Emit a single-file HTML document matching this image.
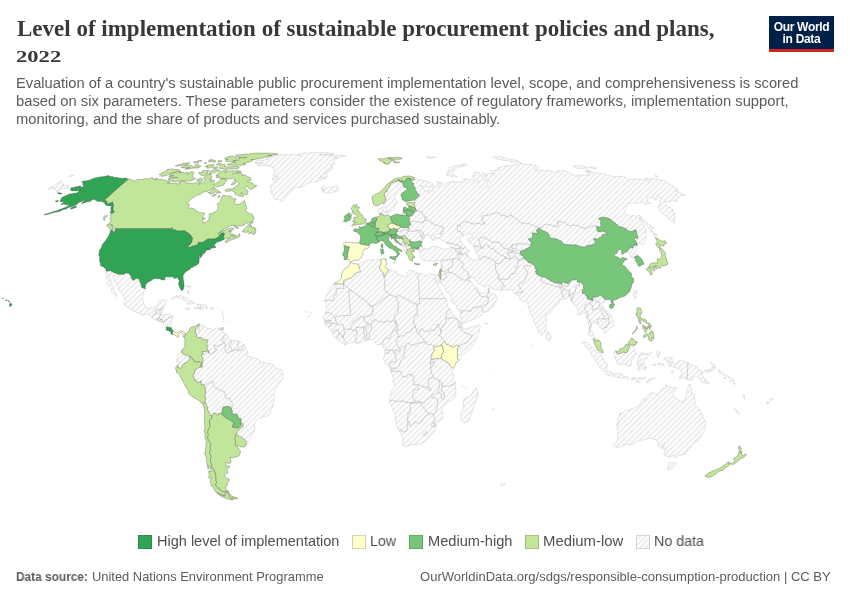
<!DOCTYPE html>
<html lang="en">
<head>
<meta charset="utf-8">
<title>Level of implementation of sustainable procurement policies and plans, 2022</title>
<style>
html,body{margin:0;padding:0;background:#fff;}
body{width:850px;height:600px;position:relative;overflow:hidden;font-family:"Liberation Sans",sans-serif;}
.t{position:absolute;white-space:nowrap;transform-origin:0 0;margin:0;padding:0;will-change:transform;}
.title{font-family:"Liberation Serif",serif;font-weight:bold;color:#383838;font-size:23px;line-height:26px;}
.sub{color:#5b5b5b;font-size:14.65px;line-height:18px;}
.leg{color:#4f4f4f;font-size:14.4px;line-height:16px;}
.foot{color:#5b5b5b;font-size:12.6px;line-height:14px;}
.sw{position:absolute;top:534.8px;width:13.9px;height:13.9px;box-shadow:inset 0 0 0 0.6px rgba(40,40,40,0.35);}
#logo{position:absolute;left:769px;top:16px;width:65px;height:36px;background:#002147;border-bottom:0 solid #ce261e;}
#logo .bar{position:absolute;left:0;right:0;bottom:0;height:3px;background:#ce261e;}
#logo span{will-change:transform;position:absolute;left:0;width:65px;text-align:center;color:#fff;font-weight:bold;font-size:12px;line-height:12px;letter-spacing:-0.3px;}
#map{position:absolute;left:0;top:0;}
</style>
</head>
<body>
<svg id="map" width="850" height="600" viewBox="0 0 850 600"><defs><pattern id="hatch" patternUnits="userSpaceOnUse" width="4" height="4" patternTransform="translate(1.4 0) rotate(-45 2 2)"><path d="M-1,2 l6,0" stroke="#ccc" stroke-width="0.7"/></pattern></defs><g fill="url(#hatch)" stroke="#aaa" stroke-width="0.3" stroke-linejoin="round"><path d="M298.8,154L304,153.1L308.7,153.1L310.8,152.6L315.7,152.4L326.4,152.6L334.4,153.8L331.7,154.4L326.4,154.5L318.9,154.6L319.5,154.9L324.5,154.7L328.4,155.3L331.3,154.8L332.3,155.4L330.4,156.3L334.2,155.7L341.1,155.1L345.2,155.4L345.9,156.1L339.9,157.3L339,157.7L334.4,158L337.7,158L335.6,159.4L334.2,160.6L333.7,162.7L335.2,164L332.8,164.1L330.2,164.7L332.7,165.7L332.7,167.4L331,167.6L332.6,169.3L329.1,169.5L330.8,170.3L330.1,171.1L327.8,171.4L325.6,171.4L327.2,172.8L327,173.8L324.1,172.9L323.1,173.5L325.2,174L327,175.3L327.3,177L324.2,177.4L323.1,176.6L321.4,175.4L321.6,176.8L319.4,178L323.8,178.1L326,178.2L321.2,180.1L316.2,181.8L311.1,182.6L309.2,182.6L307.2,183.4L304.2,185.8L300,187.4L298.8,187.5L296.3,188.1L293.6,188.6L291.6,190L291.1,191.6L289.7,193.2L286.2,195L286.3,196.9L284.9,198.8L283.2,201.1L280.6,201.3L278.5,199.4L274.9,199.3L273.6,198L273.2,195.7L271.3,192.8L271,191.3L271.6,189.2L270.1,187.1L271.5,185.5L270.7,184.7L273.5,182.1L276.4,181.2L277.5,180.3L278.6,178.6L276.4,179.4L275.3,179.7L273.7,180L272,179.3L272.6,177.8L273.8,176.7L275.4,176.6L278.4,177.2L276.3,175.9L275.2,175.1L273.4,175.4L272.4,174.9L275.2,172.9L274.7,172.1L274.3,170.7L273.7,168.5L272.2,167.7L272.7,166.9L269.4,165.7L266.3,165.5L262.2,165.6L258.3,165.8L257.1,165.2L255.5,163.9L259.9,163.3L263.1,163.2L257.1,162.7L254.4,161.9L255.3,161.2L261.7,160.3L267.9,159.4L269,158.7L265.8,158.1L267.6,157.4L273.5,156.2L275.8,156L275.8,155.3L279.5,154.9L283.9,154.6L288.2,154.6L289.3,155.1L293.6,154.3L296.5,154.9L298.4,155L300.9,155.5L298.2,154.6Z"/><path d="M145.5,288.5L144.2,290.8L143.5,292.7L142.8,296.2L142.3,297.4L142.5,298.8L143,300.1L143.2,302.1L144.4,304.1L144.7,305.6L145.4,306.9L147.7,307.6L148.5,308.7L150.6,307.9L152.3,307.7L154.1,307.2L155.6,306.7L157.2,305.7L157.9,304.1L158.4,301.9L158.9,301.2L160.5,300.5L163,299.9L165,300L166.4,299.8L166.9,300.3L166.6,301.6L165.2,303.1L164.5,304.7L164.8,305.2L164.3,306.3L163.5,308.3L163,307.7L162.5,307.7L162.1,307.7L161.1,309.3L160.7,309L160.4,309.1L160.4,309.5L158.3,309.5L156.2,309.5L156,311L154.9,311L155.7,311.8L156.4,312.4L156.6,313L157,313.2L156.8,314.1L153.9,314.1L152.6,316.2L152.8,316.7L152.5,317.3L152.4,318L150.1,315.2L149,314.4L147.2,313.7L145.9,313.9L144,314.9L142.8,315.2L141.3,314.4L139.6,314L137.6,312.8L136,312.4L133.6,311.2L131.8,309.9L131.4,309.2L130.1,309.1L127.9,308.3L127.1,307.1L125,305.6L124.1,303.9L123.7,302.7L124.5,302.4L124.4,301.7L125.1,301L125.2,300.1L124.7,298.9L124.6,297.9L124.1,296.6L122.6,294L120.7,291.9L119.9,290.3L118.2,289.2L118,288.6L118.7,287L117.7,286.4L116.7,285.1L116.6,283.3L115.4,283.1L114.5,281.7L113.8,280.4L114,279.6L113.3,277.6L113.2,275.6L113.5,274.6L112.3,273.6L111.5,273.7L110.5,273L109.8,274.1L109.7,275.3L109.3,277.3L109.8,278.4L110.9,280.2L111.1,280.8L111.4,281L111.4,281.8L111.8,281.8L111.8,283.5L112.3,284.1L112.5,285.1L113.6,286.4L113.8,288.8L114.2,290L114.6,291.2L114.4,292.6L115.5,292.7L116.2,293.9L116.8,295L116.6,295.5L115.5,296.4L115.1,296.4L114.8,294.8L113.6,293.4L112.2,292.1L111.2,291.4L111.7,289.5L111.7,288.1L110.8,287.3L109.6,286.1L109.2,286.5L108.8,285.8L107.6,285.2L106.6,283.6L106.9,283.4L107.7,283.6L108.8,282.6L109.2,281.4L108.1,279.6L107,278.8L106.6,277.2L106.4,275.5L106.1,273.4L106,271.1L108.5,270.9L111.4,270.6L111,271.1L113.9,272.4L118.3,274.2L122.7,274.2L124.5,274.2L124.8,273.1L128.6,273.1L129.2,274L130,274.9L131,276L131.3,277.4L131.5,278.8L132.4,279.6L134.1,280.4L136,278.3L137.8,278.3L139.1,279.3L139.8,281.1L140.2,282.6L141.2,284.1L141.2,285.9L141.6,287.2L143.2,288L144.6,288.6Z"/><path d="M152.4,318L152.5,317.3L152.8,316.7L152.6,316.2L153.9,314.1L156.8,314.1L157,313.2L156.6,313L156.4,312.4L155.7,311.8L154.9,311L156,311L156.2,309.5L158.3,309.5L160.4,309.5L160.1,311.6L159.6,314.5L160.3,314.5L161,315L161.2,314.6L161.8,314.9L160.7,315.9L159.5,316.7L159.3,317.2L159.4,317.7L158.9,318.4L158.3,318.5L158.4,318.8L158,319.1L157.1,319.8L157,320.1L155.9,319.7L154.5,319.6L153.5,319.1Z"/><path d="M160.4,309.5L160.4,309.1L160.7,309L161.1,309.3L162.1,307.7L162.5,307.7L162.5,308.1L162.9,308.1L162.8,308.8L162.3,310L162.4,310.3L162.1,311.3L162.2,311.5L161.8,312.9L161.2,313.5L160.8,313.6L160.3,314.5L159.6,314.5L160.1,311.6Z"/><path d="M163.2,322.1L162.9,321.3L162.2,321.1L162.5,320L162.2,319.7L161.7,319.6L160.7,319.9L160.6,319.5L160,319.1L159.5,318.6L158.9,318.4L159.4,317.7L159.3,317.2L159.5,316.7L160.7,315.9L161.8,314.9L162.1,315L162.6,314.6L163.2,314.6L163.5,314.8L163.8,314.6L164.9,314.9L165.9,314.8L166.7,314.5L167,314.2L167.7,314.4L168.2,314.5L168.8,314.5L169.3,314.2L170.3,314.6L170.6,314.7L171.3,315.2L171.9,315.8L172.7,316.1L173.2,316.8L172.4,316.8L172.1,317.2L171.3,317.5L170.7,317.5L170.1,317.8L169.7,317.7L169.4,317.3L169.1,317.4L168.8,318L168.5,318L168.4,318.5L167.6,319.3L167.1,319.6L166.9,319.9L166.2,319.4L165.7,320.1L165.2,320L164.7,320.1L164.6,321.4L164.3,321.4L163.9,322Z"/><path d="M163.2,322.1L163.9,322L164.3,321.4L164.6,321.4L164.7,320.1L165.2,320L165.7,320.1L166.2,319.4L166.9,319.9L167.1,319.6L167.6,319.3L168.4,318.5L168.5,318L168.8,318L169.1,317.4L169.4,317.3L169.7,317.7L170.1,317.8L170.7,317.5L171.3,317.5L172.1,317.2L172.4,316.8L173.2,316.8L173,317.1L172.8,317.7L173,318.6L172.4,319.5L172,320.6L171.9,321.7L171.9,322.4L171.9,323.6L171.5,323.8L171.2,325L171.3,325.6L170.8,326.3L170.9,327L171.2,327.4L170.6,328L169.9,327.8L169.6,327.3L168.9,327.1L168.3,327.4L166.9,326.7L166.5,327.1L165.8,326.2L164.8,325.2L164.3,324.3L163.4,323.5L162.4,322.3L162.7,321.9L163,322.3Z"/><path d="M177.8,295.5L179.7,295.7L181.5,295.7L183.5,296.6L184.2,297.5L186.4,297.2L187.1,297.8L188.8,299.5L190.1,300.6L190.8,300.6L192.1,301.1L191.9,301.9L193.5,302L195.1,303.1L194.8,303.7L193.2,304L191.7,304.1L190.2,303.9L186.9,304.2L188.6,302.7L187.7,302L186.3,301.9L185.6,301.1L185.2,299.6L184,299.7L181.9,299L181.3,298.5L178.4,298.1L177.7,297.6L178.6,296.9L176.5,296.8L174.7,298.1L173.7,298.2L173.3,298.8L172.1,299.1L171.2,298.8L172.5,298.1L173.1,297.1L174.2,296.5L175.5,296L177.2,295.8Z"/><path d="M197.2,304L200.5,304.6L200.6,306L200.3,307L199.7,307.4L200.2,308.2L200.1,308.9L198.6,308.5L197.5,308.6L196.2,308.4L195,308.9L193.9,308.1L194.2,307.3L196.2,307.6L197.9,307.8L198.8,307.3L197.9,306.1L198,305.2L196.6,304.7Z"/><path d="M200.5,304.6L200.8,304.1L202.6,304.1L203.9,304.8L204.5,304.7L204.8,305.7L206.1,305.6L205.9,306.4L206.9,306.5L207.9,307.4L207,308.5L205.9,307.9L204.9,308L204.2,307.9L203.7,308.4L202.8,308.5L202.5,307.9L201.7,308.3L200.6,310.1L200.1,309.6L200.1,308.9L200.2,308.2L199.7,307.4L200.3,307L200.6,306Z"/><path d="M186.9,307.7L188.4,308L189.5,308.6L189.8,309.3L188.2,309.4L187.5,309.8L186.2,309.4L185,308.4L185.4,307.8L186.4,307.7Z"/><path d="M212.5,307.7L213.7,307.9L214,308.4L213.4,309.1L211.7,309.1L210.3,309.1L210.3,308.1L210.7,307.7Z"/><path d="M187.7,290.2L188.3,290.3L188.8,292.5L188.6,294L188.1,294.1L187.7,292.6L187,291.8ZM186.6,287L186.6,286.1L187.7,285.9L189.1,285.9L189.1,286.6ZM190.9,286.6L190.2,288.5L189.9,288.1L190.1,286.8L189.3,285.7L189.4,285.4Z"/><path d="M235.5,434.9L238,431.3L240.2,428.8L241.5,427.7L243.2,426.3L243,424.2L241.7,422.7L240.7,423.2L240.9,421.7L241.1,420.1L241,418.7L240.1,418.2L239.3,418.6L238.5,418.5L238.1,417.5L237.7,415.1L237.2,414.4L235.6,413.7L234.7,414.2L232.3,413.7L232.1,410.1L231.3,408.7L232,408.1L231.6,406.6L232.1,405.5L232.4,403.4L231.7,401.8L230.4,401.1L230.1,400.1L230.3,398.5L225.9,398.4L224.8,395.4L225.5,395.4L225.4,394.2L224.9,393.5L224.7,392L223.3,391.2L221.9,391.2L220.9,390.5L219.3,389.9L218.3,389L215.7,388.5L213.1,386.2L213.2,384.4L212.9,383.4L213,381.5L210,381.9L208.9,382.9L206.9,384L206.5,384.7L205.3,384.8L203.6,384.6L202.3,385L201.2,384.7L201.2,380.8L199.4,382.3L197.4,382.2L196.4,380.8L194.9,380.7L195.3,379.6L194,378L192.9,375.6L193.5,375.2L193.4,374.1L194.8,373.3L194.5,371.9L195.1,371L195.2,369.8L197.8,368L199.6,367.5L200,367.1L202,367.2L202.9,360.1L203,358.9L202.6,357.4L201.6,356.5L201.6,354.6L202.9,354.1L203.3,354.4L203.4,353.4L202.1,353.2L202.1,351.5L206.5,351.6L207.3,350.7L208,351.5L208.4,353.1L208.8,352.7L210.1,354.1L211.9,353.9L212.3,353.1L214.1,352.5L215,352.1L215.3,351L216.9,350.3L216.8,349.7L214.9,349.5L214.6,347.8L214.7,346.1L213.7,345.4L214.1,345.2L215.8,345.5L217.7,346.2L218.3,345.5L220,345.1L222.6,344.2L223.5,343.2L223.2,342.4L224.4,342.3L224.9,342.9L224.6,344.1L225.3,344.5L225.8,345.7L225.2,346.6L224.8,348.8L225.3,350.1L225.5,351.3L226.9,352.6L228,352.7L228.3,352.2L229,352.1L230.1,351.6L230.8,350.9L232.1,351.1L232.7,351L233.9,351.2L234.1,350.7L233.8,350.2L234,349.4L234.9,349.7L236,349.4L237.3,350L238.3,350.5L239,349.8L239.6,349.9L239.9,350.6L241,350.5L241.9,349.5L242.6,347.5L244,345.1L244.8,345L245.3,346.5L246.6,351L247.8,351.5L247.8,353.3L246.1,355.4L246.8,356.2L250.9,356.6L251,359.2L252.7,357.5L255.6,358.5L259.5,360L260.6,361.6L260.3,363L262.9,362.2L267.4,363.6L270.9,363.5L274.3,365.7L277.3,368.6L279.1,369.3L281,369.4L281.9,370.3L282.7,373.6L283.1,375.2L282.3,379.5L281.2,381.2L278.1,384.8L276.7,387.8L275.1,390L274.5,390.1L274,392L274.3,396.9L273.9,400.9L273.7,402.6L273.1,403.7L272.9,407.2L270.8,410.6L270.6,413.3L268.9,414.4L268.4,416L266,416L262.5,416.9L261,418.1L258.6,418.9L256.1,421L254.4,423.5L254.3,425.5L254.8,426.9L254.7,429.6L254.4,430.8L253,432.3L251.1,436.9L249.5,438.9L248.2,440.2L247.6,442.7L246.4,444.1L245.6,442.7L246.3,441.4L244.8,439.7L242.8,438.2L240.3,436.5L239.5,436.6L236.9,434.6Z"/><path d="M199.6,325.3L199.5,325.9L198.1,326.2L198.8,327.4L198.7,328.7L197.6,330.2L198.3,332.3L199.3,332.1L199.9,330.3L199.3,329.4L199.3,327.4L202.2,326.3L202,325.1L202.8,324.3L203.5,326.1L205.1,326.1L206.5,327.6L206.6,328.5L208.6,328.5L211.1,328.2L212.3,329.4L214.1,329.7L215.4,328.9L215.5,328.2L218.3,328.1L221.1,328L219.1,328.8L219.8,330L221.6,330.2L223.3,331.5L223.6,333.6L224.8,333.6L225.7,334.2L223.8,335.7L223.6,336.7L224.3,337.6L223.8,338.1L222.3,338.5L222.3,339.7L221.7,340.4L223.2,342.4L223.5,343.2L222.6,344.2L220,345.1L218.3,345.5L217.7,346.2L215.8,345.5L214.1,345.2L213.7,345.4L214.7,346.1L214.6,347.8L214.9,349.5L216.8,349.7L216.9,350.3L215.3,351L215,352.1L214.1,352.5L212.3,353.1L211.9,353.9L210.1,354.1L208.8,352.7L208.2,350.1L207.5,349.2L206.7,348.6L207.9,347.3L207.9,346.8L207.2,346L206.8,344.3L207.1,342.4L207.6,341.5L208,340.1L207.2,339.6L205.9,339.9L204.3,339.8L203.3,340.1L201.8,337.8L200.5,337.5L197.5,337.8L197,336.8L196.4,336.6L196.4,336.1L196.7,335.1L196.5,334L196.1,333.5L195.8,332.3L194.7,332.1L195.4,330.6L195.7,328.7L196.5,327.8L197.4,327L198.1,325.7Z"/><path d="M225.7,334.2L227.2,335.1L228.5,336.8L228.6,338.2L229.4,338.2L230.6,339.5L231.5,340.4L231.1,342.8L229.7,343.4L229.8,344L229.3,345.4L230.3,347.3L231,347.3L231.3,348.8L232.7,351L232.1,351.1L230.8,350.9L230.1,351.6L229,352.1L228.3,352.2L228,352.7L226.9,352.6L225.5,351.3L225.3,350.1L224.8,348.8L225.2,346.6L225.8,345.7L225.3,344.5L224.6,344.1L224.9,342.9L224.4,342.3L223.2,342.4L221.7,340.4L222.3,339.7L222.3,338.5L223.8,338.1L224.3,337.6L223.6,336.7L223.8,335.7Z"/><path d="M231.5,340.4L234.2,340.9L234.5,340.5L236.4,340.3L238.8,341L237.6,343.2L237.7,345L238.6,346.6L238.2,347.7L237.9,348.9L237.3,350L236,349.4L234.9,349.7L234,349.4L233.8,350.2L234.1,350.7L233.9,351.2L232.7,351L231.3,348.8L231,347.3L230.3,347.3L229.3,345.4L229.8,344L229.7,343.4L231.1,342.8Z"/><path d="M238.8,341L241.3,341.9L243.7,344.1L244,345.1L242.6,347.5L241.9,349.5L241,350.5L239.9,350.6L239.6,349.9L239,349.8L238.3,350.5L237.3,350L237.9,348.9L238.2,347.7L238.6,346.6L237.7,345L237.6,343.2Z"/><path d="M178,364.9L179.2,362.9L178.6,361.8L177.8,363L176.4,361.9L176.8,361.1L176.4,358.8L177.2,358.4L177.6,356.7L178.5,355.1L178.4,354L179.6,353.4L181.2,352.4L183.5,353.9L183.9,353.8L184.5,355L186.4,355.3L187.1,354.9L188.2,355.8L189.2,356.4L189.6,358.4L188.9,360.1L186.4,362.8L183.6,363.8L182.3,366.1L181.9,367.9L180.6,368.9L179.6,367.6L178.7,367.4L177.7,367.6L177.6,366.6L178.3,366Z"/><path d="M203.6,384.6L205.3,384.8L206.5,384.7L206.9,384L208.9,382.9L210,381.9L213,381.5L212.9,383.4L213.2,384.4L213.1,386.2L215.7,388.5L218.3,389L219.3,389.9L220.9,390.5L221.9,391.2L223.3,391.2L224.7,392L224.9,393.5L225.4,394.2L225.5,395.4L224.8,395.4L225.9,398.4L230.3,398.5L230.1,400.1L230.4,401.1L231.7,401.8L232.4,403.4L232.1,405.5L231.6,406.6L232,408.1L231.3,408.7L231.2,407.9L229,406.5L226.9,406.5L223,407.2L222.1,409.5L222.2,410.9L221.6,414.1L221.2,413.5L218.6,413.4L217.9,415.5L216.4,413.6L213.4,413L211.8,415.4L210.2,415.7L208.9,412.1L207.4,409.2L207.8,406.7L206.5,405.5L206,403.7L204.8,401.9L205.9,399.1L204.8,396.9L205.2,396L204.7,395L205.5,393.7L205.4,391.5L205.4,389.7L205.8,388.8Z"/><path d="M383.5,204.1L384.2,202.7L385.6,201.1L386,198.3L384.7,197.1L384.3,194L385.2,191.8L387,191.8L387.5,190.9L386.8,190.1L389.1,186.9L390.5,184.4L391.4,182.8L393.1,182.8L393.3,181.6L396.5,182L396.5,180.5L397.6,180.4L400,181.5L402.9,183L403.7,186.5L404.4,187.3L401.6,188L400.1,189.6L400.7,191L398.2,192.9L395,194.9L394.1,198.2L395.6,199.8L397.6,201.2L396.2,203.9L394.4,204.5L394.1,208.5L393.3,210.8L391,210.6L390.1,212.5L387.8,212.6L387,210.3L385.2,207.6Z"/><path d="M383.7,209.9L383.4,210.9L382.8,210.6L381.5,212.4L382.1,213.6L380.9,213.9L379.4,213.6L378.6,212.2L378.4,209.7L378.7,209.1L379.1,208.4L380.8,208.2L381.4,207.5L382.9,206.8L382.9,208.1L382.4,208.9L382.7,209.6ZM386.6,210.8L387.3,212L386.3,214L384.2,212.6L383.8,211.6Z"/><path d="M338,186.3L337.4,187.8L339.2,189.4L336.7,191.1L331.4,192.7L329.8,193.1L327.5,192.8L322.7,192.1L324.6,191L321,189.9L324.2,189.5L324.2,188.8L320.7,188.3L322.1,186.8L324.8,186.4L327.2,188L330.1,186.7L332.1,187.4L335.1,186.2Z"/><path d="M396.1,234L396.6,232.3L396.2,231.8L397.3,231.8L397.4,230.8L398.5,231.4L399.3,231.7L401,231.4L401.1,230.9L401.8,230.8L402.8,230.4L403,230.6L404,230.2L404.4,229.7L405,229.5L407.3,230.3L407.7,230L408.9,230.7L409.1,231.4L407.9,231.9L407.1,233.6L406.1,235.4L404.5,235.8L403.2,235.7L401.7,236.4L401,236.8L399.2,236.3L397.6,235.2L396.9,234.9L396.4,234Z"/><path d="M400.8,227.3L401,227.4L401.8,227.1L402.9,228L404,227.4L405,227.7L406.4,227.3L408.4,228.3L407.9,229L407.7,230L407.3,230.3L405,229.5L404.4,229.7L404,230.2L403,230.6L402.8,230.4L401.8,230.8L401.1,230.9L401,231.4L399.3,231.7L398.5,231.4L397.4,230.8L397.1,229.9L397.3,229.5L397.5,229L398.4,229L399.1,228.8L399.1,228.5L399.5,228.4L399.5,227.8L400,227.7L400.2,227.3Z"/><path d="M402.3,239.1L403.1,239.1L402.6,240.2L403.7,241.2L403.5,242.4L403.1,242.5L402.7,242.8L402.1,243.4L401.9,244.8L399.9,243.8L399.1,242.7L398.2,242.2L397.2,241.2L396.7,240.4L395.6,239.2L395.9,238.1L396.7,238.7L397.1,238.2L398.1,238.1L399.9,238.6L401.3,238.5Z"/><path d="M406.3,246.8L406.1,245.9L405.6,245.6L405.1,244.9L405.4,244.4L405.9,244.2L406.1,243.3L406.4,243.2L406.8,243.5L407.2,243.7L407.5,244.1L407.9,244.2L408.3,244.7L408.6,244.7L408.4,245.3L408.2,245.6L408.3,245.8L407.8,245.9L406.6,246.3L406.6,246.9Z"/><path d="M404.5,245.2L404.3,244.7L403.5,245.9L403.8,246.8L403.3,246.6L402.6,245.7L401.7,245.2L401.9,244.8L402.1,243.4L402.7,242.8L403.1,242.5L403.6,243L404,243.3L404.7,243.6L405.6,244.1L405.4,244.4L405.1,244.9Z"/><path d="M406.3,246.8L406.1,247.7L406.5,248.8L407.5,249.5L407.5,250.1L406.8,250.5L406.8,251.4L405.9,252.6L405.5,252.4L405.4,251.8L404.2,251L403.9,249.7L403.9,248L404.1,247.2L403.8,246.8L403.5,245.9L404.3,244.7L404.5,245.2L405.1,244.9L405.6,245.6L406.1,245.9Z"/><path d="M406.3,246.8L406.6,246.9L406.6,246.3L407.8,245.9L408.3,245.8L409,245.7L410,245.6L411.1,246.5L411.4,248.2L411,248.3L410.7,248.7L409.6,248.7L408.8,249.2L407.5,249.5L406.5,248.8L406.1,247.7Z"/><path d="M409.1,231.4L409.9,230.8L411.2,231.1L412.5,231.1L413.5,231.7L414.2,231.4L415.6,231.1L416.1,230.5L416.9,230.5L417.5,230.8L418.3,231.5L419.1,232.6L420.5,234.1L420.7,235.2L420.6,236.3L421.2,237.5L422.2,238L423.1,237.6L424.1,238L424.2,238.6L423.3,239.2L422.6,239L422.5,242.1L421.2,241.8L419.6,240.8L417.2,241.5L416.3,242.1L413.2,242L411.5,241.6L410.7,241.8L410,240.7L409.6,240.3L410,239.8L409.5,239.5L408.9,240.1L407.6,239.3L407.3,238.3L406,237.7L405.7,236.9L404.5,235.8L406.1,235.4L407.1,233.6L407.9,231.9Z"/><path d="M416.9,230.5L417.3,230.1L418.6,229.9L420.2,230.7L421.1,230.8L422.1,231.5L422.1,232.3L422.9,232.7L423.4,233.8L424.2,234.5L424.1,234.8L424.5,235.1L424,235.3L422.8,235.2L422.5,234.8L422.1,235.1L422.3,235.5L421.9,236.3L421.7,237.2L421.2,237.5L420.6,236.3L420.7,235.2L420.5,234.1L419.1,232.6L418.3,231.5L417.5,230.8Z"/><path d="M425.6,220.7L426.4,220.8L426.8,220.3L427.4,220.4L429.4,220.1L430.9,221.6L430.5,222.1L430.9,222.8L432.5,223L433.4,224.1L433.5,224.5L436.2,225.4L437.6,225L439.1,226.2L440.3,226.2L443.4,227L443.6,227.7L443,229.1L443.8,230.5L443.6,231.3L441.7,231.5L440.8,232.2L441,233.4L439.4,233.6L438.2,234.4L436.3,234.5L434.7,235.5L435.1,237.1L436.2,237.7L438.3,237.5L438,238.5L435.8,238.9L433.3,240.4L432.1,239.9L432.3,238.7L429.9,237.9L430.2,237.4L432,236.6L431.4,236L428.1,235.3L427.8,234.4L425.9,234.7L425.4,236.1L424.1,238L423.1,237.6L422.2,238L421.2,237.5L421.7,237.2L421.9,236.3L422.3,235.5L422.1,235.1L422.5,234.8L422.8,235.2L424,235.3L424.5,235.1L424.1,234.8L424.2,234.5L423.4,233.8L422.9,232.7L422.1,232.3L422.1,231.5L421.1,230.8L420.2,230.7L418.6,229.9L417.3,230.1L416.9,230.5L416.1,230.5L415.6,231.1L414.2,231.4L413.5,231.7L412.5,231.1L411.2,231.1L409.9,230.8L409.1,231.4L408.9,230.7L407.7,230L407.9,229L408.4,228.3L408.9,228.5L408.2,227.3L409.8,225.2L410.7,224.9L410.8,224.2L409.5,222L410.5,221.9L411.5,221.3L413,221.2L415,221.4L417.3,222L418.9,222.1L419.7,222.4L420.3,222L421,222.6L422.7,222.4L423.6,222.7L423.5,221.4L424,220.9Z"/><path d="M408.6,216.2L410.5,216.2L412.5,215.3L412.7,213.9L414.1,213.1L413.7,212L414.8,211.6L416.7,210.6L418.8,211.3L419.2,211.9L420.2,211.6L422.2,212.2L422.6,213.3L422.3,214L423.8,215.6L424.7,216.1L424.7,216.5L426.1,216.9L426.8,217.6L426.1,218.2L424.6,218.1L424.2,218.3L424.8,219.1L425.6,220.7L424,220.9L423.5,221.4L423.6,222.7L422.7,222.4L421,222.6L420.3,222L419.7,222.4L418.9,222.1L417.3,222L415,221.4L413,221.2L411.5,221.3L410.5,221.9L409.5,222L409.4,220.9L408.6,219.8L409.7,219.3L409.5,218.3L408.9,217.3Z"/><path d="M407,215.2L403.4,215.2L401,214.9L401.3,213.8L403.9,213.1L406,213.5L406.9,213.9L406.8,214.6Z"/><path d="M440.9,248.2L444.1,249.2L446.5,248.8L448.3,249L450.6,247.7L452.8,247.6L455.1,248.8L455.6,249.7L455.7,251L457.3,251.6L458.3,252.4L457,253.1L458.2,256.1L457.9,256.9L459.4,259L458.4,259.4L457.6,258.8L455,258.4L454.2,258.8L451.8,259.3L450.6,259.2L448.3,260.2L446.5,260.2L445.3,259.7L443,260.4L442.2,259.9L442.3,261.4L441.8,261.9L441.3,262.5L440.4,261.3L441,260.3L439.8,260.6L437.9,260L436.6,261.5L433.3,261.8L431.4,260.4L429.1,260.3L428.7,261.4L427.2,261.7L425,260.3L422.7,260.3L421.1,257.7L419.4,256.3L420.2,254.3L418.8,253L420.8,250.6L424.1,250.4L424.7,248.5L428.8,248.8L431.1,247.1L433.4,246.4L436.9,246.4ZM420.6,249.9L419,251.3L418.2,250L418.1,249.5L418.6,249.2L419.1,247.6L418,246.9L420,246.1L421.9,246.4L422.2,247.4L424.2,248.3L423.9,248.9L421.4,249Z"/><path d="M375.1,225.7L375.5,226.3L375.4,227.4L374.9,227.4L374.4,227.2L374.6,225.8Z"/><path d="M343.7,283.8L343.5,288.5L336.2,288.3L336.1,295L334,295.2L333.4,296.6L333.8,300.3L324.9,300.3L324.4,301.2L324.6,300.1L324.7,298.9L325.6,298.2L326.4,296.8L326.2,295.9L327.1,294.1L328.3,292.4L329.1,292L329.8,290.5L329.8,289.1L330.7,287.5L332.2,286.5L333.7,283.9Z"/><path d="M343.7,283.8L343.7,280.7L347.4,278.8L349.6,278.4L351.4,277.7L352.3,276.4L354.9,275.3L355,273.4L356.2,273.2L357.2,272.2L360.1,271.8L360.5,270.8L360,270.2L359.2,267.5L359.1,265.9L358.3,264.2L360.4,262.8L362.7,262.3L364.1,261.3L366.2,260.5L369.8,260L373.4,259.8L374.5,260.2L376.5,259.2L378.8,259.1L379.7,259.7L381.1,259.6L380.8,260.9L381.2,263.4L380.7,265.5L379.4,267L379.6,269L381.5,270.5L381.5,271.1L382.9,272.2L384,276.9L384.8,279.2L384.9,280.4L384.5,282.6L384.7,283.7L384.5,285.2L384.7,286.8L383.9,287.9L385.2,289.8L385.3,290.9L386.1,292.4L387.2,291.9L389,293.1L390,294.7L382.4,299.7L375.9,304.8L372.7,306L370.2,306.3L370.1,304.6L369.1,304.2L367.7,303.4L367.1,302.2L359.5,296.5L352,290.8L343.6,284.5Z"/><path d="M384,276.9L385,276.3L385.2,275.2L384.9,274.1L386.4,273.1L387,272.3L388.1,271.5L388.2,269.5L390.8,270.4L391.7,270.2L393.5,270.6L396.5,271.8L397.6,274.1L399.6,274.6L402.8,275.7L405.2,277L406.2,276.3L407.2,275.1L406.6,273.1L407.2,271.9L408.7,270.6L410.2,270.3L413.2,270.8L414.1,272L414.9,272L415.6,272.4L417.8,272.7L418.4,273.6L417.7,274.9L418.1,276L417.7,277.6L418.5,279.7L419,289L419.4,298.6L419.6,303.8L417,303.8L417,304.9L407.8,299.9L398.7,294.9L396.5,296.3L394.9,297.3L393.6,295.9L390,294.7L389,293.1L387.2,291.9L386.1,292.4L385.3,290.9L385.2,289.8L383.9,287.9L384.7,286.8L384.5,285.2L384.7,283.7L384.5,282.6L384.9,280.4L384.8,279.2Z"/><path d="M419.4,298.6L419,289L418.5,279.7L417.7,277.6L418.1,276L417.7,274.9L418.4,273.6L421.3,273.5L423.5,274.3L425.8,275L426.8,275.4L428.4,274.6L429.3,273.9L431.2,273.6L432.8,274L433.5,275.3L434,274.4L435.8,275L437.5,275.2L438.5,274.5L440.4,279L439.9,280L439.6,282L439.1,283.4L438.6,283.8L437.8,283L436.7,281.8L434.8,278.1L434.6,278.3L435.7,281.1L437.3,283.7L439.3,287.8L440.2,289.2L441.1,290.7L443.2,293.5L442.8,294L443,295.7L445.8,298.1L446.2,298.6L437.2,298.6L428.5,298.6Z"/><path d="M324.4,301.2L324.9,300.3L333.8,300.3L333.4,296.6L334,295.2L336.1,295L336.2,288.3L343.5,288.5L343.6,284.5L352,290.8L348.5,290.9L349.5,302.1L350.5,313.4L350.9,313.7L350.4,315.5L341.2,315.6L340.9,316.2L340,316L338.7,316.5L337.1,315.8L336.4,315.8L336,317.4L335.2,317.8L333.7,316.1L332.4,314.1L330.9,313.5L329.8,312.7L328.5,312.7L327.4,313.3L326.3,313L325.5,313.9L325.3,312.5L326,311.2L326.3,308.7L326.1,306.1L325.9,304.9L326.1,303.6L325.6,302.3Z"/><path d="M336.6,323.5L336.7,322.7L336.6,321.7L335.7,321L335.3,319.5L335.2,317.8L336,317.4L336.4,315.8L337.1,315.8L338.7,316.5L340,316L340.9,316.2L341.2,315.6L350.4,315.5L350.9,313.7L350.5,313.4L349.5,302.1L348.5,290.9L352,290.8L359.5,296.5L367.1,302.2L367.7,303.4L369.1,304.2L370.1,304.6L370.2,306.3L372.7,306L372.7,312L371.5,313.8L371.3,315.4L369.3,315.8L366.2,316L365.3,316.9L363.8,317L362.4,317.1L361.8,316.5L360.6,316.9L358.4,318L358,318.8L356.2,320L355.9,320.7L354.9,321.2L353.8,320.8L353.2,321.5L352.9,323.3L351,325.4L351.1,326.3L350.5,327.4L350.6,328.9L349.6,329.3L349.1,329.6L348.8,328.5L348.1,328.8L347.7,328.8L347.3,329.5L345.5,329.5L344.9,329.1L344.6,329.4L343.9,328.6L344,327.8L343.7,327.5L343.2,327.8L343.3,326.9L343.8,326.3L342.9,325.2L342.6,324.4L342.1,323.9L341.6,323.8L341.1,324.2L340.3,324.5L339.7,325.1L338.7,324.9L338.1,324.2L337.7,324.1L337.1,324.5L336.8,324.5Z"/><path d="M367.9,324.8L368,323L365.3,322.5L365.3,321.2L364,319.5L363.7,318.3L363.8,317L365.3,316.9L366.2,316L369.3,315.8L371.3,315.4L371.5,313.8L372.7,312L372.7,306L375.9,304.8L382.4,299.7L390,294.7L393.6,295.9L394.9,297.3L396.5,296.3L397.1,300.4L398,301.1L398,301.9L399,302.8L398.5,303.9L397.8,309.2L397.7,312.6L394.9,315.1L393.9,318.5L394.9,319.5L394.9,321.2L396.4,321.2L396.2,322.4L395.5,322.6L395.5,323.4L395.1,323.5L393.5,320.6L392.9,320.5L391.1,322L389.4,321.2L388.1,321.1L387.5,321.4L386.1,321.3L384.8,322.5L383.6,322.5L380.8,321.2L379.8,321.8L378.6,321.8L377.7,320.8L375.4,319.8L373,320.1L372.4,320.7L372.1,322.2L371.4,323.2L371.3,325.6L369.5,324.1L368.7,324.1Z"/><path d="M396.2,322.4L396.4,321.2L394.9,321.2L394.9,319.5L393.9,318.5L394.9,315.1L397.7,312.6L397.8,309.2L398.5,303.9L399,302.8L398,301.9L398,301.1L397.1,300.4L396.5,296.3L398.7,294.9L407.8,299.9L417,304.9L417.5,315.3L415.5,315.1L414.5,317L413.9,318.6L414.4,319.2L413.7,320L414,321.1L413.4,322.2L413.2,323.1L414,323L414.5,324L414.6,325.5L415.4,326.3L415.4,326.9L414,327.4L412.8,328.4L411.2,331.3L409.1,332.5L406.8,332.3L406.2,332.6L406.4,333.5L405.3,334.4L404.3,335.4L401.4,336.4L400.8,335.8L400.4,335.8L400,336.4L398.1,336.6L398.5,335.9L397.7,334.1L397.4,333L396.4,332.6L395,331.1L395.5,329.8L396.6,330.1L397.2,329.9L398.5,330L397.2,327.6L397.3,325.8L397.1,324.1Z"/><path d="M446.2,298.6L437.2,298.6L428.5,298.6L419.4,298.6L419.6,303.8L417,303.8L417,304.9L417.5,315.3L415.5,315.1L414.5,317L413.9,318.6L414.4,319.2L413.7,320L414,321.1L413.4,322.2L413.2,323.1L414,323L414.5,324L414.6,325.5L415.4,326.3L415.4,326.9L415.7,328L417,329.7L417.1,330.7L416.7,331.8L416.9,332.6L417.7,333.4L417.9,333.5L418.6,333.2L419.4,332.7L419.9,330.4L420.5,329.2L422.2,328.8L422.6,329.5L423.8,331.1L424.4,331.3L425.2,330.8L426.9,330.9L427.2,331.5L429.5,331.5L429.6,330.9L430.8,330.4L431,329.7L431.8,329.1L433.8,330.7L435,330.4L436.1,328.5L437.3,327.1L437,325.5L436.5,324.8L437.8,324.6L438,324L439.1,324.2L438.8,326.1L439.2,328L440.4,329L440.7,330L440.6,331.3L441,331.3L441,331L441.6,328.3L442.6,327.5L442.8,326.5L443.8,324.5L445.1,323.2L445.9,320.6L446.2,318.4L445.9,317.3L446.7,313.5L446.9,311.7L447.6,311L449.2,310.5L450.3,309L449,308.1L448.1,307.4L447.1,304.3L446.6,301.6L447.1,301.1Z"/><path d="M417.9,333.5L418.6,333.2L419.4,332.7L419.9,330.4L420.5,329.2L422.2,328.8L422.6,329.5L423.8,331.1L424.4,331.3L425.2,330.8L426.9,330.9L427.2,331.5L429.5,331.5L429.6,330.9L430.8,330.4L431,329.7L431.8,329.1L433.8,330.7L435,330.4L436.1,328.5L437.3,327.1L437,325.5L436.5,324.8L437.8,324.6L438,324L439.1,324.2L438.8,326.1L439.2,328L440.4,329L440.7,330L440.6,331.3L441,331.3L441,333.3L440.7,334.1L439.5,334.2L438.7,335.7L440.2,335.9L441.4,337.1L441.8,338.2L442.8,338.8L444.3,341.6L442.7,343.3L441.3,344.9L439.9,346.1L438.3,346.1L436.4,346.7L435,346.1L434,346.8L432,345.1L431.4,344L430.2,344.5L429.1,344.4L428.5,344.8L427.4,344.5L426,342.3L425.6,341.5L423.9,340.5L423.3,338.9L422.3,337.8L420.8,336.4L420.7,335.6L419.5,334.5Z"/><path d="M445.9,317.3L446.2,318.4L445.9,320.6L445.1,323.2L443.8,324.5L442.8,326.5L442.6,327.5L441.6,328.3L441,331L441,333.3L440.7,334.1L439.5,334.2L438.7,335.7L440.2,335.9L441.4,337.1L441.8,338.2L442.8,338.8L444.3,341.6L445.5,342.1L445.5,343.5L446.3,344.4L447.9,344.4L450.8,346.6L451.6,346.6L452.1,346.6L452.6,346.9L454.1,347.1L454.8,346L456.9,344.9L457.8,345.8L459.4,345.8L460,345L461.5,344.9L463.5,343.1L466.5,342.9L472.8,335.1L470.9,335.1L463.3,332L462.4,331.1L461.5,329.8L460.6,328.4L461.1,327.5L460.1,327.2L458.7,327.2L458.7,326.3L458.5,325.6L459.2,324.4L460,323.3L459.1,322.4L458.1,320.9L457.1,320.1L456.5,319.1L454.4,318.1L452.8,318.1L452.3,317.5L451,318.1L449.5,317L448.9,318.9L446.2,318.4Z"/><path d="M446.2,318.4L448.9,318.9L449.5,317L451,318.1L452.3,317.5L452.8,318.1L454.4,318.1L456.5,319.1L457.1,320.1L458.1,320.9L459.1,322.4L460,323.3L460.9,323.5L461.6,322.9L460.5,322.1L458.4,319.7L457.1,318.2L454.3,316L453.8,315.7L452.5,314.4L451.8,312L450.3,309L449.2,310.5L447.6,311L446.9,311.7L446.7,313.5L445.9,317.3Z"/><path d="M460,323.3L460.9,323.5L461.6,322.9L462.2,323.7L462.2,324.8L460.9,325.4L461.9,326.1L461.1,327.5L460.1,327.2L458.7,327.2L458.7,326.3L458.5,325.6L459.2,324.4Z"/><path d="M461.9,326.1L462.6,326.6L463.1,327.7L464.2,328.7L465.3,328.8L467.5,328.1L470,327.8L472,326.9L473.1,326.8L473.9,326.3L475.2,326.2L475.9,326.2L477,325.8L478.2,325.5L479.2,324.6L480.1,324.6L480.1,325.3L480,326.8L480.1,328.2L479.6,329.2L479.1,332L478.1,334.9L476.7,338.3L474.9,342.1L473,345L470.3,348.5L468,350.6L464.6,353.3L462.5,355.2L459.9,358.4L459.4,359.8L458.9,360.4L457.5,358.2L457.4,348.7L459.4,345.8L460,345L461.5,344.9L463.5,343.1L466.5,342.9L472.8,335.1L470.9,335.1L463.3,332L462.4,331.1L461.5,329.8L460.6,328.4L461.1,327.5Z"/><path d="M441.2,358.5L441.5,358.8L449.9,364.1L450,365.6L453.3,368.2L452.2,371.4L452.3,372.9L453.7,373.9L453.8,374.5L453.1,376.1L453.2,376.9L453,378.2L453.8,379.8L454.7,382.4L455.5,382.9L453.6,384.4L451.1,385.5L449.7,385.4L448.9,386.2L447.3,386.3L446.7,386.6L443.9,385.9L442.2,386.1L441.7,382.5L440.9,381.3L440.5,380.6L438.2,380.1L436.9,379.3L435.5,378.9L434.6,378.4L433.6,377.8L432.5,374.5L431.1,373L430.7,371.5L431,370.1L430.6,367.7L431.5,367.6L432.4,366.7L433.3,365.3L433.9,364.8L433.8,363.9L433.4,363.3L433.2,362.3L433.9,362L434,360.4L433.1,358.9L433.9,358.6L436.5,358.7Z"/><path d="M433.1,358.9L434,360.4L433.9,362L433.2,362.3L432,362.1L431.3,363.6L429.9,363.4L430.1,362L430.4,361.8L430.5,360.2L431.2,359.5L431.7,359.8Z"/><path d="M430.6,367.7L430.5,364.6L429.9,363.4L431.3,363.6L432,362.1L433.2,362.3L433.4,363.3L433.8,363.9L433.9,364.8L433.3,365.3L432.4,366.7L431.5,367.6Z"/><path d="M430.6,367.7L431,370.1L430.7,371.5L431.1,373L432.5,374.5L433.6,377.8L432.7,377.5L429.6,378L429,378.3L428.3,379.9L428.8,381.1L428.4,384.2L428,386.8L428.6,387.2L430.2,388.3L430.8,387.8L430.9,390.6L429.2,390.6L428.3,389.1L427.5,388L425.7,387.7L425.2,386.3L423.8,387.1L422,386.7L421.3,385.6L419.8,385.3L418.7,385.4L418.6,384.6L417.8,384.5L416.8,384.4L415.4,384.8L414.4,384.7L413.8,384.9L414,381.8L413.2,380.8L413.1,379.3L413.4,377.7L413,376.7L413,375L410.2,375.1L410.4,374.1L409.2,374.1L409.1,374.6L407.7,374.7L407.1,376.2L406.7,376.9L405.4,376.5L404.7,376.9L403.2,377.1L402.3,375.7L401.8,374.8L401.1,373.3L400.6,371.3L393.8,371.3L393,371.6L392.3,371.6L391.3,371.9L391,371.1L391.6,370.8L391.7,369.7L392.1,369L392.9,368.5L393.5,368.7L394.3,367.7L395.6,367.8L395.7,368.5L396.6,369L397.9,367.3L399.3,366.1L399.9,365.2L399.8,363.1L400.8,360.5L401.9,359.2L403.4,357.9L403.7,357.1L403.7,356.2L404.1,355.2L404,353.8L404.3,351.5L404.7,349.8L405.4,348.4L405.5,346.9L405.7,345L406.6,343.7L407.8,342.9L409.7,343.8L411.2,344.7L412.9,345L414.6,345.5L415.3,343.9L415.6,343.7L416.7,344L419.2,342.7L420.1,343.2L420.9,343.1L421.2,342.5L422,342.3L423.8,342.6L425.3,342.6L426,342.3L427.4,344.5L428.5,344.8L429.1,344.4L430.2,344.5L431.4,344L432,345.1L434,346.8L433.9,349.9L434.8,350.3L434.1,351.2L433.2,351.9L432.4,353.2L431.9,354.4L431.8,356.5L431.2,357.5L431.2,359.5L430.5,360.2L430.4,361.8L430.1,362L429.9,363.4L430.5,364.6Z"/><path d="M324.8,320.5L323.9,318.5L322.7,317.6L323.8,317.1L324.9,315.2L325.5,313.9L326.3,313L327.4,313.3L328.5,312.7L329.8,312.7L330.9,313.5L332.4,314.1L333.7,316.1L335.2,317.8L335.3,319.5L335.7,321L336.6,321.7L336.7,322.7L336.6,323.5L336.3,323.7L335.1,323.5L334.9,323.8L334.4,323.8L332.7,323.2L331.6,323.1L327.4,323L326.8,323.3L326,323.2L324.8,323.7L324.5,321.7L326.6,321.7L327.1,321.4L327.5,321.3L328.4,320.7L329.4,321.3L330.3,321.3L331.4,320.7L330.9,320L330.1,320.4L329.4,320.4L328.5,319.8L327.8,319.8L327.3,320.5Z"/><path d="M324.5,321.7L324.8,320.5L327.3,320.5L327.8,319.8L328.5,319.8L329.4,320.4L330.1,320.4L330.9,320L331.4,320.7L330.3,321.3L329.4,321.3L328.4,320.7L327.5,321.3L327.1,321.4L326.6,321.7Z"/><path d="M324.8,323.7L326,323.2L326.8,323.3L327.4,323L331.6,323.1L331.6,324L331.3,324.3L331.5,325.2L331.2,325.5L330.6,325.5L330,326L329.3,325.9L328.3,327.2L327.1,326.1L326.1,325.9L325.6,325.2L325.6,324.8L325,324.2Z"/><path d="M331.6,323.1L332.7,323.2L334.4,323.8L334.9,323.8L335.1,323.5L336.3,323.7L336.6,323.5L336.8,324.5L337.1,324.5L337.7,324.1L338.1,324.2L338.7,324.9L339.7,325.1L340.3,324.5L341.1,324.2L341.6,323.8L342.1,323.9L342.6,324.4L342.9,325.2L343.8,326.3L343.3,326.9L343.2,327.8L343.7,327.5L344,327.8L343.9,328.6L344.6,329.4L344.1,329.6L343.9,330.4L344.4,331.5L345,333.6L344.2,333.9L343.9,334.3L344.1,334.8L344,335.9L343.6,335.9L343,335.9L342.5,336.9L341.8,336.9L341.4,336.3L341.5,335.3L340.6,333.7L340,334L339.5,334L338.8,334.2L338.9,333.2L338.5,332.6L338.6,331.8L338.1,330.7L337.5,329.8L335.6,329.8L335.1,330.3L334.5,330.3L334.1,330.9L333.8,331.6L332.6,332.8L331.6,331.2L330.7,330.2L330.1,329.8L329.5,329.4L329.3,328.2L329,327.6L328.3,327.2L329.3,325.9L330,326L330.6,325.5L331.2,325.5L331.5,325.2L331.3,324.3L331.6,324Z"/><path d="M332.6,332.8L333.8,331.6L334.1,330.9L334.5,330.3L335.1,330.3L335.6,329.8L337.5,329.8L338.1,330.7L338.6,331.8L338.5,332.6L338.9,333.2L338.8,334.2L339.5,334L338.4,335.3L337.4,336.7L337.2,337.4L336.7,338.3L336.1,338.1L334.4,337.1L333.2,335.6L332.8,334.7Z"/><path d="M343.6,335.9L343.5,336.7L343.7,338L343.2,339.1L343.9,339.8L344.6,340L345.6,341.1L345.6,342.1L345.4,342.5L345.2,344.6L344.6,344.6L342.3,343.4L340.2,341.4L338.2,340L336.7,338.3L337.2,337.4L337.4,336.7L338.4,335.3L339.5,334L340,334L340.6,333.7L341.5,335.3L341.4,336.3L341.8,336.9L342.5,336.9L343,335.9Z"/><path d="M344.6,329.4L344.9,329.1L345.5,329.5L347.3,329.5L347.7,328.8L348.1,328.8L348.8,328.5L349.1,329.6L349.6,329.3L350.6,328.9L351.6,329.5L352,330.4L353.1,330.9L353.9,330.3L354.9,330.2L356.5,330.8L357.1,334.5L356.1,336.7L355.5,339.7L356.5,341.9L356.4,343L355.4,343L353.8,342.5L352.3,342.5L349.6,343L348,343.7L345.7,344.7L345.2,344.6L345.4,342.5L345.6,342.1L345.6,341.1L344.6,340L343.9,339.8L343.2,339.1L343.7,338L343.5,336.7L343.6,335.9L344,335.9L344.1,334.8L343.9,334.3L344.2,333.9L345,333.6L344.4,331.5L343.9,330.4L344.1,329.6Z"/><path d="M365.4,340.5L361.8,342.1L360.6,342.9L358.5,343.7L356.4,343L356.5,341.9L355.5,339.7L356.1,336.7L357.1,334.5L356.5,330.8L356.2,328.9L356.3,327.4L360.2,327.3L361.3,327.4L362,327L363,327.2L362.9,328L363.8,329.4L363.8,331.3L364.1,333.3L364.6,334.3L364.1,336.7L364.3,338L364.9,339.6Z"/><path d="M365.1,327.3L364.8,328.7L365.5,329.4L366.3,330.3L366.4,331.6L366.8,332.2L366.7,338.2L367.3,340L365.4,340.5L364.9,339.6L364.3,338L364.1,336.7L364.6,334.3L364.1,333.3L363.8,331.3L363.8,329.4L362.9,328L363,327.2Z"/><path d="M369.2,339.7L367.3,340L366.7,338.2L366.8,332.2L366.4,331.6L366.3,330.3L365.5,329.4L364.8,328.7L365.1,327.3L365.8,327L366.3,325.9L367.4,325.6L367.9,324.8L368.7,324.1L369.5,324.1L371.3,325.6L371.2,326.4L371.7,328L371.3,329L371.5,329.7L370.4,331.4L369.7,332.1L369.2,333.8L369.3,335.5Z"/><path d="M350.6,328.9L350.5,327.4L351.1,326.3L351,325.4L352.9,323.3L353.2,321.5L353.8,320.8L354.9,321.2L355.9,320.7L356.2,320L358,318.8L358.4,318L360.6,316.9L361.8,316.5L362.4,317.1L363.8,317L363.7,318.3L364,319.5L365.3,321.2L365.3,322.5L368,323L367.9,324.8L367.4,325.6L366.3,325.9L365.8,327L365.1,327.3L363,327.2L362,327L361.3,327.4L360.2,327.3L356.3,327.4L356.2,328.9L356.5,330.8L354.9,330.2L353.9,330.3L353.1,330.9L352,330.4L351.6,329.5Z"/><path d="M369.2,339.7L369.3,335.5L369.2,333.8L369.7,332.1L370.4,331.4L371.5,329.7L371.3,329L371.7,328L371.2,326.4L371.3,325.6L371.4,323.2L372.1,322.2L372.4,320.7L373,320.1L375.4,319.8L377.7,320.8L378.6,321.8L379.8,321.8L380.8,321.2L383.6,322.5L384.8,322.5L386.1,321.3L387.5,321.4L388.1,321.1L389.4,321.2L391.1,322L392.9,320.5L393.5,320.6L395.1,323.5L395.5,323.4L396.4,324.4L396.1,324.9L396,325.8L394.1,327.8L393.5,329.5L393.2,330.8L392.8,331.4L392.3,333.2L391.1,334.3L390.7,335.6L390.2,336.7L390,337.8L388.4,338.7L387.1,337.6L386.3,337.6L384.9,339.2L384.2,339.2L383.2,341.7L382.6,343.5L380.2,344.5L379.3,344.4L378.4,344.9L376.6,344.9L375.3,343.2L374.6,341.4L373,339.6L371.2,339.7Z"/><path d="M382.6,343.5L383.2,341.7L384.2,339.2L384.9,339.2L386.3,337.6L387.1,337.6L388.4,338.7L390,337.8L390.2,336.7L390.7,335.6L391.1,334.3L392.3,333.2L392.8,331.4L393.2,330.8L393.5,329.5L394.1,327.8L396,325.8L396.1,324.9L396.4,324.4L395.5,323.4L395.5,322.6L396.2,322.4L397.1,324.1L397.3,325.8L397.2,327.6L398.5,330L397.2,329.9L396.6,330.1L395.5,329.8L395,331.1L396.4,332.6L397.4,333L397.7,334.1L398.5,335.9L398.1,336.6L397,339.3L396.5,339.7L396.3,341.8L396.5,342.9L396.3,343.7L397.4,345L397.6,346L398.5,347.3L399.5,348.1L399.7,349.3L399.9,350.1L399.7,351.5L397.9,350.9L396.1,350.2L393.1,350.1L392.8,349.9L391.5,350.3L390.1,349.9L389,350.1L385.2,350L385.6,348L384.7,346.3L383.6,345.8L383.1,344.6L382.6,344.3Z"/><path d="M398.1,336.6L400,336.4L400.4,335.8L400.8,335.8L401.4,336.4L404.3,335.4L405.3,334.4L406.4,333.5L406.2,332.6L406.8,332.3L409.1,332.5L411.2,331.3L412.8,328.4L414,327.4L415.4,326.9L415.7,328L417,329.7L417.1,330.7L416.7,331.8L416.9,332.6L417.7,333.4L419.5,334.5L420.7,335.6L420.8,336.4L422.3,337.8L423.3,338.9L423.9,340.5L425.6,341.5L426,342.3L425.3,342.6L423.8,342.6L422,342.3L421.2,342.5L420.9,343.1L420.1,343.2L419.2,342.7L416.7,344L415.6,343.7L415.3,343.9L414.6,345.5L412.9,345L411.2,344.7L409.7,343.8L407.8,342.9L406.6,343.7L405.7,345L405.5,346.9L404,346.7L402.5,346.3L401.1,347.6L399.9,350.1L399.7,349.3L399.5,348.1L398.5,347.3L397.6,346L397.4,345L396.3,343.7L396.5,342.9L396.3,341.8L396.5,339.7L397,339.3Z"/><path d="M385.2,350L389,350.1L389,353.2L385.7,353.2L384.9,353.4L384.5,353Z"/><path d="M389,350.1L390.1,349.9L391.5,350.3L392.8,349.9L393.1,350.1L393,351.2L393.6,352.6L395.3,352.3L395.9,352.9L394.9,355.9L396,357.4L396.3,359.5L396,361.2L395.2,362.4L393.2,362.3L392,361.1L391.8,362.2L390.2,362.6L389.5,363.2L390.3,365L388.5,366.4L386.2,363.8L384.7,361.6L383.3,358.9L383.4,358L383.9,357.2L384.4,355.3L384.9,353.4L385.7,353.2L389,353.2Z"/><path d="M388.5,366.4L390.3,365L389.5,363.2L390.2,362.6L391.8,362.2L392,361.1L393.2,362.3L395.2,362.4L396,361.2L396.3,359.5L396,357.4L394.9,355.9L395.9,352.9L395.3,352.3L393.6,352.6L393,351.2L393.1,350.1L396.1,350.2L397.9,350.9L399.7,351.5L399.9,350.1L401.1,347.6L402.5,346.3L404,346.7L405.5,346.9L405.4,348.4L404.7,349.8L404.3,351.5L404,353.8L404.1,355.2L403.7,356.2L403.7,357.1L403.4,357.9L401.9,359.2L400.8,360.5L399.8,363.1L399.9,365.2L399.3,366.1L397.9,367.3L396.6,369L395.7,368.5L395.6,367.8L394.3,367.7L393.5,368.7L392.9,368.5L392.1,367.6L391.4,368L390.4,369.2Z"/><path d="M391.3,371.9L392.3,371.6L393,371.6L393.8,371.3L400.6,371.3L401.1,373.3L401.8,374.8L402.3,375.7L403.2,377.1L404.7,376.9L405.4,376.5L406.7,376.9L407.1,376.2L407.7,374.7L409.1,374.6L409.2,374.1L410.4,374.1L410.2,375.1L413,375L413,376.7L413.4,377.7L413.1,379.3L413.2,380.8L414,381.8L413.8,384.9L414.4,384.7L415.4,384.8L416.8,384.4L417.8,384.5L418.1,385.3L417.8,386.6L418.1,387.8L417.8,388.8L418,389.7L413.2,389.7L412.9,398L414.4,400.1L415.8,401.7L411.6,402.8L406.1,402.4L404.5,401.2L395.3,401.3L395,401.5L393.6,400.3L392.2,400.2L390.8,400.7L389.7,401.2L389.5,399.5L389.9,397.2L390.7,394.8L390.8,393.7L391.6,391.4L392.1,390.3L393.5,388.6L394.2,387.4L394.5,385.5L394.4,384L393.7,383.1L393.1,381.5L392.6,379.9L392.7,379.4L393.4,378.3L392.7,375.8L392.3,374.1L391.1,372.4ZM391.4,368L392.1,367.6L392.9,368.5L392.1,369L391.7,369.7L391.6,370.8L391,371.1L390.4,369.2Z"/><path d="M433.6,377.8L434.6,378.4L435.5,378.9L436.9,379.3L438.2,380.1L439.3,381.3L439.8,383.5L439.4,384.2L438.9,386.3L439.3,388.5L438.5,389.4L437.7,391.8L438.9,392.5L431.9,394.6L432,396.5L430.3,396.8L429,397.9L428.7,398.8L427.8,399L425.8,401.1L424.5,402.8L423.7,402.9L423,402.6L420.4,402.3L420,402.1L420,401.9L419.1,401.3L417.7,401.2L415.8,401.7L414.4,400.1L412.9,398L413.2,389.7L418,389.7L417.8,388.8L418.1,387.8L417.8,386.6L418.1,385.3L417.8,384.5L418.6,384.6L418.7,385.4L419.8,385.3L421.3,385.6L422,386.7L423.8,387.1L425.2,386.3L425.7,387.7L427.5,388L428.3,389.1L429.2,390.6L430.9,390.6L430.8,387.8L430.2,388.3L428.6,387.2L428,386.8L428.4,384.2L428.8,381.1L428.3,379.9L429,378.3L429.6,378L432.7,377.5Z"/><path d="M438.2,380.1L440.5,380.6L440.9,381.3L441.7,382.5L442.2,386.1L441.5,388.1L442,391.4L442.8,391.4L443.6,392.3L444.5,394.1L444.5,397.5L443.5,398L442.8,399.8L441.3,398.2L441.3,396.4L441.8,395.2L441.7,394.1L440.8,393.5L440.2,393.7L438.9,392.5L437.7,391.8L438.5,389.4L439.3,388.5L438.9,386.3L439.4,384.2L439.8,383.5L439.3,381.3Z"/><path d="M442.2,386.1L443.9,385.9L446.7,386.6L447.3,386.3L448.9,386.2L449.7,385.4L451.1,385.5L453.6,384.4L455.5,382.9L455.8,384.1L455.7,386.7L455.8,389L455.8,393.1L456.1,394.3L455.3,396.2L454.4,398L452.8,399.6L450.7,400.6L448.1,401.9L445.4,404.7L444.5,405.2L442.8,407L441.8,407.6L441.5,409.5L442.5,411.5L442.8,413L442.8,413.8L443.2,413.7L443,416.2L442.6,417.4L443.1,417.9L442.7,419L441.7,419.9L439.8,420.8L437,422.2L435.9,423.2L436.1,424.3L436.6,424.4L436.3,425.8L434.6,425.8L434.5,424.6L434.3,423.4L434.1,422.5L434.7,419.6L434.2,417.8L433.3,414.1L435.9,411.1L436.6,409.2L436.9,409L437.2,407.5L436.9,406.7L437.1,404.7L437.7,402.9L437.8,399.6L436.7,398.8L435.6,398.6L435.1,397.9L434.1,397.4L432.2,397.4L432,396.5L431.9,394.6L438.9,392.5L440.2,393.7L440.8,393.5L441.7,394.1L441.8,395.2L441.3,396.4L441.3,398.2L442.8,399.8L443.5,398L444.5,397.5L444.5,394.1L443.6,392.3L442.8,391.4L442,391.4L441.5,388.1Z"/><path d="M433.3,414.1L432.2,413.8L431.4,414.1L430.3,413.7L429.4,413.7L428,412.5L426.3,412.1L425.7,410.4L425.7,409.5L424.8,409.2L422.3,406.3L421.7,404.8L421.2,404.4L420.4,402.3L423,402.6L423.7,402.9L424.5,402.8L425.8,401.1L427.8,399L428.7,398.8L429,397.9L430.3,396.8L432,396.5L432.2,397.4L434.1,397.4L435.1,397.9L435.6,398.6L436.7,398.8L437.8,399.6L437.7,402.9L437.1,404.7L436.9,406.7L437.2,407.5L436.9,409L436.6,409.2L435.9,411.1Z"/><path d="M429.4,413.7L426.1,415.6L424,417.5L423.2,419.3L422.5,420.3L421.2,420.5L420.8,421.7L420.5,422.5L419.1,423.1L417.2,423L416.2,422.3L415.3,422L414.1,422.6L413.5,423.8L412.4,424.6L411.3,425.8L409.7,426L409.2,425.1L409.5,423.5L408.3,421L407.7,420.7L407.9,413L410.1,412.9L410.5,403.6L412.2,403.6L415.7,402.6L416.6,403.7L418,402.7L418.7,402.7L420,402.1L420.4,402.3L421.2,404.4L421.7,404.8L422.3,406.3L424.8,409.2L425.7,409.5L425.7,410.4L426.3,412.1L428,412.5Z"/><path d="M389.7,401.2L390.8,400.7L392.2,400.2L393.6,400.3L395,401.5L395.3,401.3L404.5,401.2L406.1,402.4L411.6,402.8L415.8,401.7L417.7,401.2L419.1,401.3L420,401.9L420,402.1L418.7,402.7L418,402.7L416.6,403.7L415.7,402.6L412.2,403.6L410.5,403.6L410.1,412.9L407.9,413L407.7,420.7L407.2,430.3L405.2,431.6L404,431.8L402.6,431.3L401.6,431.1L401.3,430L400.4,429.3L399.3,430.6L397.7,428.6L396.9,426.7L396.5,424.2L396,422.3L395.4,418.3L395.4,415.1L395.2,413.7L394.3,412.6L393.2,410.5L392.1,407.3L391.6,405.7L389.8,403.2Z"/><path d="M399.3,430.6L400.4,429.3L401.3,430L401.6,431.1L402.6,431.3L404,431.8L405.2,431.6L407.2,430.3L407.7,420.7L408.3,421L409.5,423.5L409.2,425.1L409.7,426L411.3,425.8L412.4,424.6L413.5,423.8L414.1,422.6L415.3,422L416.2,422.3L417.2,423L419.1,423.1L420.5,422.5L420.8,421.7L421.2,420.5L422.5,420.3L423.2,419.3L424,417.5L426.1,415.6L429.4,413.7L430.3,413.7L431.4,414.1L432.2,413.8L433.3,414.1L434.2,417.8L434.7,419.6L434.1,422.5L434.3,423.4L433.2,423L432.5,423.2L432.3,423.9L431.6,424.9L431.6,425.8L432.8,427.2L434.1,426.9L434.6,425.8L436.3,425.8L435.6,427.7L435.2,429.9L434.5,431L432.9,432.4L432.5,432.7L431.4,434.1L430.7,435.4L429.3,437.3L426.6,440L424.9,441.5L423.1,442.7L420.7,443.7L419.6,443.9L419.3,444.6L418,444.2L416.9,444.7L414.5,444.2L413.2,444.5L412.3,444.4L410,445.4L408.1,445.8L406.7,446.8L405.7,446.9L404.8,445.9L404.1,445.9L403.2,444.7L403.1,445.1L402.8,444.4L402.9,442.9L402.3,441.1L403.1,440.6L403.1,438.6L401.8,436.2L400.8,434Z"/><path d="M427.3,431.6L428.1,432.4L427.3,433.6L426.8,434.5L425.6,434.9L425.1,435.7L424.3,436L422.8,434L424.1,432.3L425.3,431.3L426.4,430.8Z"/><path d="M434.6,425.8L434.1,426.9L432.8,427.2L431.6,425.8L431.6,424.9L432.3,423.9L432.5,423.2L433.2,423L434.3,423.4L434.5,424.6Z"/><path d="M476.4,388.5L477,389.7L477.5,391.4L477.7,394.5L478.2,395.8L477.9,397L477.4,397.8L476.7,396.2L476.3,397L476.6,398.9L476.3,400.1L475.6,400.7L475.4,402.9L474.2,405.9L472.8,409.5L471.1,414.4L469.9,418.1L468.7,421.1L466.8,421.7L464.7,422.8L463.5,422.2L461.8,421.2L461.3,419.8L461.3,417.5L460.7,415.5L460.6,413.6L461.1,411.7L462.2,411.2L462.3,410.4L463.5,408.4L463.8,406.7L463.3,405.5L463,403.8L463,401.4L463.9,400L464.3,398.3L465.4,398.2L466.7,397.7L467.6,397.2L468.6,397.2L470,395.7L472,394.1L472.7,392.8L472.4,391.7L473.4,392L474.8,390.2L474.9,388.6L475.7,387.4Z"/><path d="M414.8,179.4L416.3,178.6L419.4,180L424.2,180.5L431.4,183L433,184.1L433.7,185.6L432.2,186.8L429.5,187.4L421.3,185.6L420.1,185.9L423.4,187.6L423.8,188.6L424.6,191L427.1,191.7L428.6,192.3L428.5,191.2L427.2,190.2L428,189.3L432.7,190.8L434,190.2L432.3,188.5L435.6,186.3L437.2,186.4L439.1,187.2L439.5,185.6L437.6,184.3L438,183L436.2,181.6L441.2,182.3L442.7,183.6L440.6,183.8L441.1,185.1L442.7,185.9L445.2,185.4L445.1,183.9L448.2,182.9L453.2,181L454.5,181.1L453.5,182.4L455.7,182.6L456.5,181.9L459.7,181.8L461.7,180.9L464.3,182.2L465.4,180.8L463,179.5L463.5,178.8L468.8,179.4L471.5,180.1L479,182.7L479.5,181.5L477.1,180.3L476.7,179.9L474.6,179.7L474.5,178.6L472.6,176.9L472.1,176.2L473.9,174.3L473.6,172.4L474.5,172L479.1,172.5L480.3,173.7L480,175.4L481.5,176.1L483,177.6L484.6,180.6L487.3,182L487.5,183.4L486.1,186.6L488.3,187L488.5,186.2L490,185.6L489.8,184.5L490.6,183.4L488.8,182.1L488.6,180.7L486.7,180.5L485.5,179.3L485.3,177.1L482,175.3L483.8,173.9L482.4,172.4L483.1,172.4L484.8,173.5L485.7,175.6L487.7,176L485.9,174.4L487.9,173.6L491.2,173.5L495.1,174.7L492.3,172.9L490.3,170.7L492.7,170.3L496.6,170.4L499.8,170.1L497.5,169L498.1,167.7L499.8,167.6L501.8,166.6L505.6,166.4L505.5,165.8L509.3,165.6L511,166.1L513.3,165L516.1,165.1L515.5,164.2L515.9,163.4L518.4,162.6L521.8,163.2L520.4,163.7L524.2,164L525.8,165L526.6,164.5L531.1,164.5L535.7,165.5L537.9,166.2L538.9,167.2L538,167.8L535.2,169L534.8,169.6L537,169.9L540,170.4L540.9,170L543.3,171.3L543.4,170.8L545.5,170.5L551,170.8L552.6,171.8L559.6,172.1L557.7,170.5L561.5,170.9L564,170.9L568,172L570.5,173.3L570.7,174.2L574.8,175.9L578.4,176.7L577.2,174.5L581,175.5L583,174.9L587.1,175.5L587.5,174.9L590.5,175.2L586.7,173.3L587.5,172.4L604,173.7L607.2,175L613.9,176.6L619.9,176.2L623.6,176.6L626.4,177.5L628.5,179.1L631.4,179.7L633,179.2L635.8,179.2L639.6,179.6L642.4,179.4L648.3,181.3L649.3,180.6L645.8,179.2L645.1,178.2L651.3,178.8L654.5,178.7L661,179.8L664.8,180.7L678.3,189.7L677.6,190.7L675,190.5L678.3,191.8L682.1,193.7L683.8,194.3L685.3,195.3L685.7,195.9L681.7,195.4L679,197.2L677.8,197.5L677.1,199.1L676.3,200.6L677,201.7L672.3,200L669.8,201.9L667.9,201L667.4,202L664.5,201.7L665.8,203.3L666.3,205.6L667.4,206.6L670.2,207.1L673.9,210.7L672.2,210.8L673.5,212.8L675.5,213.9L673.4,215.2L675.6,218L673.3,218.6L675.2,221.1L674.5,223.5L672.2,221.7L667.9,218.1L661.3,212.6L658.7,209.2L658.7,207.7L657.6,206.6L659.9,206L659.8,203L660.1,200.6L661.1,198.7L658.4,195.3L656.5,195.5L657.8,197.5L656.3,200.1L651.4,197.2L647.6,198L647.6,201.9L650.8,203.4L647.3,204.1L644.7,204.3L643,202.6L639.7,202.2L638.7,203.4L632.6,203L627.2,203.7L625.8,208.4L623.7,214.2L627.1,214.5L629.4,216L631.7,216.6L631.9,215.4L634.1,215.5L639.4,218.3L641.3,220.4L641.8,222.9L644.1,225.9L646.2,229.9L645.8,233.6L646.3,235.4L645.6,238.4L644.7,241.3L644.3,242.9L642.5,244.4L641.2,244.4L639.1,243.2L637.5,245L637.6,245.9L637.1,245.4L636.3,244.1L637.3,244.1L635.7,241L633.8,238.8L635,237.9L637.8,238.4L637.5,235.9L636.3,233.1L636.5,232.1L636,229.9L633.1,230.6L632.1,231.6L629,231.6L626.5,229.2L622.9,227.4L618.9,226.6L616.4,224.1L614.5,222.6L613,221.5L609.9,219L607.4,218.1L603.9,217.3L601.4,217.4L599.3,217.9L598.6,219.1L600.1,219.7L601.2,221.1L600.6,221.9L600.7,224.5L601.5,225.6L599.7,227.2L596.7,226.3L594.4,226.5L592.8,225.6L591.4,225.4L589.6,227.2L587.2,227.6L585.7,228.2L583,227.8L581.1,227.8L579.2,226.5L576.5,225.3L574.3,225L571.9,225.3L570.3,225.8L566.9,224.7L565.4,222.8L562.7,222.2L560.7,221.9L557.9,220.9L557.3,223.5L559,224.9L558,226.7L554.7,226.1L552.7,226L550.8,224.8L548.6,224.7L546.5,224L544.1,225.2L541.4,227.3L539.4,227.8L538.7,228L537,226.4L534.5,226.8L533.2,225.7L531.6,225.2L529.9,223.8L528.6,223.3L526,224L522.6,222.5L522.2,223.8L514.8,217.5L511.3,215.5L511.7,214.8L507.9,217.1L506.1,217.3L505.6,215.9L502.8,215.1L501,215.7L499.2,213.1L495.5,212.6L494.3,213.6L489.8,214.5L489.2,215.1L482.3,216L481.7,216.8L483.8,218.5L482.1,219.2L482.7,219.9L481.3,221.1L485.1,222.8L485,224L482.2,223.9L481.9,224.6L478.9,223.3L475.8,223.4L474,224.4L471.3,223.4L466.4,221.7L463.3,221.8L460,224.5L460.3,226.3L457.8,224.9L457,227.6L457.7,228.2L457,230.1L459.1,231.8L460.6,231.7L462.3,233.4L462.4,234.7L463.6,235.2L463,236.7L461.1,237.1L459.7,239.7L462.1,242.2L462.3,243.9L465.2,247L464.2,248L464,248.7L463,248.5L461.3,246.9L460.6,246.8L459.2,246.2L458.3,245.2L456.3,244.6L455.1,245L454.6,244.6L451.5,243.3L448.4,242.9L446.5,242.5L446.3,242.8L443.3,240.6L440.7,239.6L438.7,238.1L440.1,237.7L441.4,235.6L440.1,234.5L442.9,233.5L442.7,233L441,233.4L440.8,232.2L441.7,231.5L443.6,231.3L443.8,230.5L443,229.1L443.6,227.7L443.4,227L440.3,226.2L439.1,226.2L437.6,225L436.2,225.4L433.5,224.5L433.4,224.1L432.5,223L430.9,222.8L430.5,222.1L430.9,221.6L429.4,220.1L427.4,220.4L426.8,220.3L426.4,220.8L425.6,220.7L424.8,219.1L424.2,218.3L424.6,218.1L426.1,218.2L426.8,217.6L426.1,216.9L424.7,216.5L424.7,216.1L423.8,215.6L422.3,214L422.6,213.3L422.2,212.2L420.2,211.6L419.2,211.9L418.8,211.3L416.7,210.6L415.8,209.2L415.4,208L414.4,207.5L415.1,206.7L414.1,204.5L415.1,203.1L414.8,202.6L416.6,201.3L414.4,200.2L417.7,197.2L419,195.8L419.4,194.6L416.4,193L416.8,191.5L414.8,189.8L415.5,187.8L412.8,185.2L414,183.5L411,182.1L410.9,180.5L412.2,180.3ZM47.7,189.7L61.2,180.7L62.7,182.4L63.8,184.6L61.6,186.1L62,186.6L63.9,185L68.1,185.3L68.5,187.4L65.4,188.4L62.2,188.6L59,190.9L57.7,191.4L56.1,191.3L55.9,190.5L54.5,189.8L55.5,188.8L54.3,188.5L51.9,188.8L52.1,188L53.7,187.1L50.8,187.7L50,188.7ZM72,175.1L73.3,175.7L72.7,176L70.1,176.5L67.8,176.7L70.3,175.2ZM658.2,176.7L656.6,176.8L655.2,176.1L655.7,175.2ZM446.2,174.1L447.6,173.7L446.9,172.5L449.1,170.7L447.5,170.5L450.2,168.7L449.2,167.7L452,166.7L456.2,165.4L461,165L463,164.3L465.7,164.1L467.4,164.8L466.9,165.5L462.2,166.4L458.2,167.4L454.6,169.3L453.5,171.4L452.1,173.4L453.4,175.1L457.5,176.9L456.6,177.1L451.1,176.8L450.2,175.8L447,175.3ZM509,160.3L506.1,160.6L501.3,160L498,159.3L495.3,158L492.9,157.7L495.1,156.5L497.7,156.2L501.5,157L507.1,158.7ZM512.2,159.6L517.3,160.7L517.9,161.4L510.6,162.2L510,159.7L510.9,159.5ZM574.9,165.6L579.1,165.7L586.4,166.8L587.5,168.3L581.7,168.2L579.9,168.7L574.8,167.4L573.5,166ZM589.2,167.6L588.5,166.9L591.9,167.2L596.7,167.7L596.2,168.5L593.4,168.4ZM587,170.3L590.4,171L591.4,171.6L589,171.6L585.4,171.4L585,171.3L585.3,170.4ZM648.9,224.1L654.5,228.6L650.8,227.7L652.4,231.4L656.2,234L657.5,235.8L654.8,234.3L654.9,236.3L653,234.1L651.4,231.6L649.1,228.9L648.2,227L645.6,223.6L642.3,221.1L639.6,217.7L640.4,216.6L638.5,215.4L639.1,215.1L641.1,216.7L643.9,219.1L646,221.6ZM426.6,157.3L429.2,157L431.3,156.9L431.9,157.4L432.5,157L433.6,156.7L436,157.1L435.6,157.3L433.8,157.5L432.6,157.7L432.6,158L431.2,158.2L429.3,157.8L429.8,157.3Z"/><path d="M538.7,228L537,226.4L534.5,226.8L533.2,225.7L531.6,225.2L529.9,223.8L528.6,223.3L526,224L522.6,222.5L522.2,223.8L514.8,217.5L511.3,215.5L511.7,214.8L507.9,217.1L506.1,217.3L505.6,215.9L502.8,215.1L501,215.7L499.2,213.1L495.5,212.6L494.3,213.6L489.8,214.5L489.2,215.1L482.3,216L481.7,216.8L483.8,218.5L482.1,219.2L482.7,219.9L481.3,221.1L485.1,222.8L485,224L482.2,223.9L481.9,224.6L478.9,223.3L475.8,223.4L474,224.4L471.3,223.4L466.4,221.7L463.3,221.8L460,224.5L460.3,226.3L457.8,224.9L457,227.6L457.7,228.2L457,230.1L459.1,231.8L460.6,231.7L462.3,233.4L462.4,234.7L463.6,235.2L465.4,234.6L467.4,233.5L469.3,234.1L471.4,234L472.1,235.6L472.4,238.1L470.5,237.7L468.9,238.1L469.3,240L467.2,239.7L467.5,240.6L468.8,241.2L470.3,243.5L472.9,244.4L473.5,245.3L473.3,246.4L473.5,247L474.2,246.2L476.5,245.6L478.1,246.4L480.1,248.4L481.1,248.2L478.6,238.7L483.4,237.2L483.9,237.5L487.6,239.3L489.6,240.3L492.3,242.6L494.6,242.2L498.1,242L501.2,243.9L501.8,246.5L502.9,246.5L503.9,248.6L506.6,248.7L507.6,249.9L508.3,249.9L508.7,248.1L510.9,246.3L512,245.8L512.1,244.7L513.3,244.3L517.1,245.2L516.9,243.7L517.9,243.1L521.3,244.2L521.9,243.9L525.4,244L528.6,244.2L530,245.2L531.4,245.6L530.7,244.1L531.9,243.4L528.3,238.9L532,237.9L532.8,237.4L532.4,232.8L536.8,233.6L537.5,232.5L536.4,229.9L538,229.7Z"/><path d="M481.1,248.2L478.6,238.7L483.4,237.2L483.9,237.5L487.6,239.3L489.6,240.3L492.3,242.6L494.6,242.2L498.1,242L501.2,243.9L501.8,246.5L502.9,246.5L503.9,248.6L506.6,248.7L507.6,249.9L508.3,249.9L508.7,248.1L510.9,246.3L512,245.8L512.7,246L511.5,247.7L513.3,248.7L514.6,248L517.5,249.4L515.4,251.3L513.7,251L512.8,251.1L512.3,250.3L512.4,249.2L509.8,249.7L509.6,251.4L509,252.9L507.1,252.7L506.9,253.9L508.7,254.5L509.6,256.4L509.1,259.1L507.3,258.5L506.1,258.5L505.8,256.9L502.7,255.8L500.1,254.5L498.4,253.3L495.5,251.5L493.8,248.8L492.9,248.4L490.7,248.5L489.7,247.9L489,245.9L485.8,244.5L484.4,246L482.8,246.9L483.5,248.2Z"/><path d="M495.7,263L495,260.8L493.4,260.7L490.4,258.4L488.6,258.1L486,256.8L484.4,256.5L483.6,257L482.1,256.9L480.9,258.4L479.1,258.9L478.3,257.1L478.1,254.4L476.2,253.5L476.4,251.7L474.9,251.6L474.9,249.4L477.1,250L478.7,249.2L476.8,247.6L475.9,246.2L474.3,246.8L474.6,248.7L473.5,247L474.2,246.2L476.5,245.6L478.1,246.4L480.1,248.4L481.1,248.2L483.5,248.2L482.8,246.9L484.4,246L485.8,244.5L489,245.9L489.7,247.9L490.7,248.5L492.9,248.4L493.8,248.8L495.5,251.5L498.4,253.3L500.1,254.5L502.7,255.8L505.8,256.9L506.1,258.5L505.5,258.4L504.3,257.7L504.2,258.6L502.5,259.2L502.5,261.2L501.5,262L499.9,262.4L499.7,263.6L498.1,263.9Z"/><path d="M512,245.8L512.1,244.7L513.3,244.3L517.1,245.2L516.9,243.7L517.9,243.1L521.3,244.2L521.9,243.9L525.4,244L528.6,244.2L530,245.2L531.4,245.6L531.3,246.2L528.5,247.6L528.1,248.6L525.5,248.9L525.3,250.5L522.9,250.2L521.6,250.7L519.9,251.9L520.4,252.5L520,253.1L516.1,253.5L513.2,252.7L510.9,252.9L510.7,251.4L513.2,251.8L513.7,251L515.4,251.3L517.5,249.4L514.6,248L513.3,248.7L511.5,247.7L512.7,246Z"/><path d="M513.7,251L513.2,251.8L510.7,251.4L510.9,252.9L513.2,252.7L516.1,253.5L520,253.1L521.2,255.5L521.9,255.3L523.3,255.8L523.5,256.9L524.3,258.3L522.1,258.3L520.5,258.1L519.5,259.3L518.6,259.6L518,260.1L516.9,259.3L516.5,257.1L515.9,257L515.9,256.2L514.6,255.6L513.9,256.5L513.9,257.5L513.7,257.9L512.4,257.9L512,259L511.2,258.6L509.8,259.4L509.1,259.1L509.6,256.4L508.7,254.5L506.9,253.9L507.1,252.7L509,252.9L509.6,251.4L509.8,249.7L512.4,249.2L512.3,250.3L512.8,251.1Z"/><path d="M539.4,227.8L540.8,229.5L543.1,230.9L546.4,231.9L548.8,233.9L549.4,236.9L550.6,238L553.2,238.4L556.2,238.8L559.4,240.4L560.8,240.7L562.9,243.1L564.8,244.6L567,244.5L571.6,245.1L574.3,244.8L576.5,245.1L580.3,246.7L582.9,246.7L584.2,247.5L586,246.1L588.9,245.2L592,245.1L594,244.2L594.8,242.8L595.8,242L595,241.1L593.8,240.1L594,238.5L595.3,238.7L597.7,239.2L599,237.9L601.6,236.9L602.1,235.2L603.1,234.5L605.9,234.1L607.7,234.4L607.4,233.5L604.4,231.7L602.3,230.9L601.3,231.8L599.1,231.5L598.1,231.8L597,230.7L596.9,228.2L596.7,226.3L594.4,226.5L592.8,225.6L591.4,225.4L589.6,227.2L587.2,227.6L585.7,228.2L583,227.8L581.1,227.8L579.2,226.5L576.5,225.3L574.3,225L571.9,225.3L570.3,225.8L566.9,224.7L565.4,222.8L562.7,222.2L560.7,221.9L557.9,220.9L557.3,223.5L559,224.9L558,226.7L554.7,226.1L552.7,226L550.8,224.8L548.6,224.7L546.5,224L544.1,225.2L541.4,227.3Z"/><path d="M636.5,292.3L636,296.5L635.5,298.7L633.9,296.5L633.2,294.5L634,291.9L635.4,290L636.6,290.7Z"/><path d="M637.1,245.4L637.6,245.9L636.8,245.7L636.4,246.6L636.2,247.5L637.4,249.4L636.6,249.9L636.4,250.4L636.1,251.1L634.9,251.6L634.3,252.3L634.8,253.4L634.7,253.7L635.8,254.1L637.6,255.3L637.6,255.9L636.7,256.1L635.3,256.2L635,257.4L634,257.3L634,257.5L632.7,257L632.7,257.5L632.2,257.7L631.9,257.2L631.2,257L630.4,256.6L630.5,255.4L630.8,255.1L630.4,254.6L630.2,253.2L629.9,252.8L628.5,252.5L627.1,251.8L628,250.2L629.6,248.8L630,246.9L631.5,247.8L633.3,247.8L632.2,246.5L634.9,245.4L634.8,243.9Z"/><path d="M588.3,303.3L587.2,304.5L585.6,304.6L585,307.4L584.1,307.8L585.5,310.1L587.2,312L588.4,313.8L587.8,316L587.1,316.5L587.8,317.8L589.5,319.9L589.9,321.4L590,322.6L591.1,325L590.1,327.4L589.2,330.1L588.8,328.1L589.3,326.1L588.5,324.6L588.4,321.8L587.3,320.4L586.2,317.3L585.4,314L584.2,311.8L582.8,313.1L580.5,315L579.2,314.8L577.7,314.1L578.1,310.9L577.3,308.5L575.1,305.4L575.2,304.5L573.8,304.2L571.9,302L571.5,299.9L572.3,300.4L572.1,298.5L573.1,297.8L572.7,296.8L573.1,295.9L572.8,293.1L574.6,293.7L575.2,291.6L575.1,290.3L576,288.1L575.6,286.7L578.1,284.8L579.8,285.3L579.2,283.7L579.9,283.2L579.5,282.2L580.8,282L581.9,283.6L583,284.2L583.5,286.2L583.9,288.3L582.2,290.5L582.4,293.6L584.7,293.2L585.7,295.6L587.2,296.1L586.9,298.3L588.7,299.3L589.8,299.7L591.3,299L591.5,300L589.9,301.7L589.6,302.7Z"/><path d="M597.9,324.2L595.8,323L593.8,323L593.9,321L591.9,321L592,323.9L591.1,327.7L590.6,330L590.8,331.9L592.3,332L593.4,334.3L594,336.6L595.4,338.1L596.8,338.4L598,339.8L597.3,340.8L595.8,341.1L595.6,339.8L593.6,338.7L593.3,339.1L592.3,338.1L591.8,336.8L590.5,335.4L589.3,334.1L589.1,335.7L588.5,334.2L588.7,332.6L589.2,330.1L590.1,327.4L591.1,325L590,322.6L589.9,321.4L589.5,319.9L587.8,317.8L587.1,316.5L587.8,316L588.4,313.8L587.2,312L585.5,310.1L584.1,307.8L585,307.4L585.6,304.6L587.2,304.5L588.3,303.3L589.6,302.7L590.7,303.5L591,305.1L592.6,305.2L592.4,307.9L592.8,310.3L595,308.7L595.7,309.2L597.1,309.1L597.4,308.2L599.1,308.4L601.2,310.5L601.7,313.1L603.8,315.4L604,317.6L603.4,318.8L601.2,318.4L598.3,318.9L597.1,321.1Z"/><path d="M603.4,318.8L604,317.6L603.8,315.4L601.7,313.1L601.2,310.5L599.1,308.4L597.4,308.2L597.1,309.1L595.7,309.2L595,308.7L592.8,310.3L592.4,307.9L592.6,305.2L591,305.1L590.7,303.5L589.6,302.7L589.9,301.7L591.5,300L591.8,300.7L593.1,300.7L592.2,297.7L593.3,297.4L595,299.4L596.4,301.8L599.2,301.8L600.4,304.1L599.1,304.8L598.6,305.7L601.5,307.3L603.9,310.3L605.7,312.7L607.6,314.5L608.4,316.3L608.3,318.9L606.2,318L605.4,319.8Z"/><path d="M607,299.8L604.4,302L602.9,304.5L602.7,306.3L604.9,309L607.5,312.4L609.8,314L611.4,316.1L613.1,320.9L613.2,325.5L611.5,327.3L609,329L607.3,331.1L604.6,333.6L603.7,331.9L604.2,330.1L602.3,328.6L604.2,327.6L606.6,327.4L605.5,325.8L609.1,323.8L609.1,320.7L608.3,318.9L608.4,316.3L607.6,314.5L605.7,312.7L603.9,310.3L601.5,307.3L598.6,305.7L599.1,304.8L600.4,304.1L599.2,301.8L596.4,301.8L595,299.4L593.3,297.4L594.5,296.7L596.2,296.8L598.4,296.4L600.1,295.1L601.3,296L603.5,296.5L603.4,298L604.6,299.1Z"/><path d="M600.4,328.3L599.3,326.9L597.9,324.2L597.1,321.1L598.3,318.9L601.2,318.4L603.4,318.8L605.4,319.8L606.2,318L608.3,318.9L609.1,320.7L609.1,323.8L605.5,325.8L606.6,327.4L604.2,327.6L602.3,328.6Z"/><path d="M626,344.2L626.9,343.2L628.7,341.8L628.7,343L628.7,344.7L627.6,344.6L627.1,345.5Z"/><path d="M582.3,341.7L587.4,342.3L589.6,344.9L591.4,346.6L592.7,347.7L595,350.5L597.3,350.6L599.3,352.3L600.7,354.5L602.4,355.7L601.5,357.9L602.8,358.8L603.6,358.8L604,360.6L604.8,362.1L606.4,362.3L607.5,364L606.8,367.2L606.5,371.3L604,371.3L602.1,369.2L599.3,367L598.4,365.4L596.7,363.3L595.6,361.4L593.9,357.7L591.9,355.5L591.2,353.3L590.3,351.2L588.2,349.6L586.9,347.4L585.1,345.9L582.6,343ZM607.1,371.4L609.9,371.5L611.6,372.6L612.6,372.8L612.8,373.7L617.2,374L617.8,372.9L622,374.1L622.7,375.8L626.2,376.3L628.9,377.8L626.2,378.8L623.7,377.8L621.6,377.9L619.3,377.7L617.2,377.2L614.6,376.2L612.9,375.9L611.9,376.3L607.8,375.2L607.4,374.1L605.4,373.9ZM634.5,345.2L633.3,347.6L635.1,350L634.7,351.2L637.4,353.7L634.6,354L633.9,355.7L633.9,358.1L631.7,359.9L631.6,362.5L630.6,366.5L630.2,365.6L627.6,366.7L626.7,365.1L625.1,365L624,364.1L621.2,365.1L620.4,363.8L618.9,364L617,363.6L616.7,360.2L615.6,359.4L614.5,357.2L614.2,354.9L614.4,352.5L615.8,350.8L616.2,352.5L617.8,354L619.3,353.4L620.8,353.7L622.1,352.3L623.2,352.1L625.4,352.8L627.2,352.3L628.3,348.6L629.2,347.7L629.9,344.8L632.5,344.8ZM651.7,352.3L649.9,354.9L648.2,355.4L645.9,354.9L642.1,355L640.1,355.4L639.8,357.4L641.8,359.7L643.1,358.5L647.4,357.6L647.2,358.8L646.2,358.4L645.1,360L643.1,361L645.2,364.3L644.7,365.2L646.6,368.2L646.5,369.9L645.3,370.7L644.4,369.8L645.6,367.6L643.3,368.7L642.8,367.9L643.1,366.9L641.5,365.4L641.8,362.9L640.3,363.6L640.3,366.7L640.2,370.4L638.7,370.8L637.8,370L638.6,367.6L638.3,365.1L637.4,365.1L636.7,363.3L637.7,361.6L638.1,359.5L639.3,355.6L639.8,354.5L641.7,352.6L643.5,353.4L646.4,353.7L649.1,353.6L651.3,351.7ZM688,362.8L687.5,371.3L686.9,379.8L685,377.7L682.8,377.1L682.1,377.9L679.2,378L680.4,375.8L681.9,375.1L681.5,372.3L680.5,370.1L676.2,367.9L674.3,367.6L670.9,365.2L670.2,366.5L669.3,366.7L668.8,365.8L668.9,364.6L667.2,363.4L669.7,362.4L671.3,362.5L671.2,361.8L667.8,361.8L666.9,360.2L664.9,359.7L663.9,358.5L667,357.8L668.2,357L671.9,358L672.2,359L672.8,363.2L675.1,364.8L677.1,362L679.8,360.4L681.9,360.4L683.8,361.4L685.5,362.3ZM650.1,379.2L650.4,378.6L652.4,378L654,377.9L654.8,377.6L655.6,377.9L654.7,378.6L652.2,379.8L650.2,380.5L648.6,382.5L646.5,383L646.3,382.7L646.6,381.8L647.7,380.2ZM641.8,378.3L643.3,378.1L645.5,377.1L645,378.6L641.5,379.3L638.5,379L638.5,378L640.4,377.5ZM634.7,377.8L636.2,377.6L636.7,378.7L634,379.3L632.4,379.6L631.1,379.6L632,378.1L633.3,378.1L634,377.1ZM636.1,381L638.3,380.4L639.5,381.2L640.2,382L640,382.7L639,382.8ZM659.7,353.1L659.6,355.3L658.4,355.1L658,356.7L659,358L658.3,358.3L657.4,356.7L656.7,353.4L657.1,351.3L657.9,350.3L658.1,351.7L659.4,352ZM663.6,364.1L664.4,366.1L662.5,365L660.6,364.8L659.3,365L657.7,364.8L658.3,363.4L661.1,363.3ZM656.2,365L655.3,365.9L653.7,365.4L653.3,364.3L655.6,364.2ZM672.6,370.2L673.1,371L673,372.2L671.7,374L671.6,372L672.1,371.1Z"/><path d="M531.8,263.4L535,266.4L535.3,268.5L536.5,269.9L536.8,271.2L535.1,270.9L536.4,273.7L538.9,275.4L542.4,277.2L541.3,278.4L540.9,280.9L543.3,281.8L545.6,283.1L548.8,284.6L551.9,284.9L553.4,286.2L555.2,286.5L558,287.1L559.9,287.1L559.9,286L559.3,284.4L559.3,283.2L560.5,282.7L561.1,284.7L561.3,285.3L563.5,286.3L564.8,285.8L566.7,286L568.5,285.9L568.4,284.4L567.3,283.5L569,283.2L570.6,281.2L572.8,279.6L574.8,280.2L576.1,279.1L577.5,280.8L577,281.8L579.5,282.2L579.9,283.2L579.2,283.7L579.8,285.3L578.1,284.8L575.6,286.7L576,288.1L575.1,290.3L575.2,291.6L574.6,293.7L572.8,293.1L573.1,295.9L572.7,296.8L573.1,297.8L572.1,298.5L570.3,294.3L569.7,294.3L569.6,296L568.1,294.7L568.6,293.2L569.6,293L570.2,290.8L568.9,290.4L566.8,290.4L564.6,290L564.1,288.2L563,288.1L561,287L560.5,288.7L562.4,290.1L561.2,291.1L560.8,292.1L562.3,292.8L562.1,294.3L563.2,296.3L563.9,298.4L563.7,299.4L562.2,299.4L559.4,299.9L559.8,301.9L558.8,303.4L555.8,305.2L553.7,308.2L552.1,309.9L550.1,311.6L550.2,312.8L549.1,313.4L547.2,314.4L546.1,314.5L545.6,316.5L546.4,319.9L546.7,322L545.9,324.5L546.2,329L545,329.1L544.1,331.1L544.9,331.9L542.8,332.7L542.1,334.5L541.2,335.2L538.9,332.8L537.7,329.1L536.6,326.5L535.8,325.3L534.3,322.7L533.5,319.5L533,317.8L530.6,314.3L529.2,309.2L528.1,305.9L527.8,302.7L527.1,300.2L524,301.8L522.3,301.5L519,298.3L520,297.4L519.2,296.4L516.4,294.2L517.6,292.4L522.6,292.4L521.8,290.2L520.4,288.9L519.9,286.9L518.2,285.7L520.2,282.9L522.9,283.2L524.7,280.4L525.6,277.7L527.2,275.1L526.8,273.3L528.3,271.8L526.2,270.5L525.1,268.7L523.7,266.4L524.5,265.3L528,266L530.3,265.6Z"/><path d="M524.9,259.1L526.8,260.3L528,262.3L531.8,263.4L530.3,265.6L528,266L524.5,265.3L523.7,266.4L525.1,268.7L526.2,270.5L528.3,271.8L526.8,273.3L527.2,275.1L525.6,277.7L524.7,280.4L522.9,283.2L520.2,282.9L518.2,285.7L519.9,286.9L520.4,288.9L521.8,290.2L522.6,292.4L517.6,292.4L516.4,294.2L514.6,293.5L513.7,291.6L511.7,289.6L507.7,290.1L504.1,290.2L500.9,290.5L501.4,287.5L504.4,286.2L504.1,285L503,284.5L502.6,282.2L500.3,281.1L499.1,279.5L497.8,278.1L501.7,279.5L503.9,279.1L505.3,279.4L505.6,278.8L507.2,279.1L509.9,278L509.6,275.8L510.5,274.3L512.2,274.3L512.3,273.6L513.9,273.2L514.8,273.5L515.5,272.7L515,271.2L515.6,269.6L516.8,268.9L515.6,267.2L517.7,267.3L518.1,266.3L517.7,265.4L518.5,264.3L518,263L517.2,261.9L518.2,260.7L520.3,260.2L522.7,259.9L523.7,259.4Z"/><path d="M495.7,263L498.1,263.9L499.7,263.6L499.9,262.4L501.5,262L502.5,261.2L502.5,259.2L504.2,258.6L504.3,257.7L505.5,258.4L506.1,258.5L507.3,258.5L509.1,259.1L509.8,259.4L511.2,258.6L512,259L512.4,257.9L513.7,257.9L513.9,257.5L513.9,256.5L514.6,255.6L515.9,256.2L515.9,257L516.5,257.1L516.9,259.3L518,260.1L518.6,259.6L519.5,259.3L520.5,258.1L522.1,258.3L524.3,258.3L524.9,259.1L523.7,259.4L522.7,259.9L520.3,260.2L518.2,260.7L517.2,261.9L518,263L518.5,264.3L517.7,265.4L518.1,266.3L517.7,267.3L515.6,267.2L516.8,268.9L515.6,269.6L515,271.2L515.5,272.7L514.8,273.5L513.9,273.2L512.3,273.6L512.2,274.3L510.5,274.3L509.6,275.8L509.9,278L507.2,279.1L505.6,278.8L505.3,279.4L503.9,279.1L501.7,279.5L497.8,278.1L499.4,275.8L498.9,274.1L497.2,273.7L496.7,272L495.6,269.9L496.3,268.5L495.3,268.1L495.5,266.2Z"/><path d="M559.3,283.2L559.3,284.4L559.9,286L559.9,287.1L558,287.1L555.2,286.5L553.4,286.2L551.9,284.9L548.8,284.6L545.6,283.1L543.3,281.8L540.9,280.9L541.3,278.4L542.4,277.2L543.2,276.6L545.2,277.4L547.8,279.1L549.1,279.5L550.1,280.7L551.9,281.2L554,282.4L556.6,283Z"/><path d="M567.3,283.5L568.4,284.4L568.5,285.9L566.7,286L564.8,285.8L563.5,286.3L561.3,285.3L561.1,284.7L562.2,282.8L563.3,282.1L565,282.8L566.2,282.8Z"/><path d="M572.1,298.5L572.3,300.4L571.5,299.9L571.9,302L571.1,300.7L570.8,299.4L570.1,298.1L569,296.6L566.9,296.5L567.3,297.6L566.7,299L565.7,298.5L565.5,298.9L564.8,298.7L563.9,298.4L563.2,296.3L562.1,294.3L562.3,292.8L560.8,292.1L561.2,291.1L562.4,290.1L560.5,288.7L561,287L563,288.1L564.1,288.2L564.6,290L566.8,290.4L568.9,290.4L570.2,290.8L569.6,293L568.6,293.2L568.1,294.7L569.6,296L569.7,294.3L570.3,294.3Z"/><path d="M551,336.4L550.8,339.1L549.9,339.8L547.9,340.4L546.7,338.4L546.2,334.6L547,330.4L548.6,331.8L549.8,333.7Z"/><path d="M459.4,259L457.9,256.9L458.2,256.1L457,253.1L458.3,252.4L458.8,253.4L460.1,254.6L461.6,254.9L462.4,254.8L464.6,252.9L465.3,252.7L466.1,253.5L465.6,254.8L467.2,256.1L467.7,256L468.8,257.9L470.9,258.5L472.6,259.8L475.8,260.2L479,259.5L479.1,258.9L480.9,258.4L482.1,256.9L483.6,257L484.4,256.5L486,256.8L488.6,258.1L490.4,258.4L493.4,260.7L495,260.8L495.7,263L495.5,266.2L495.3,268.1L496.3,268.5L495.6,269.9L496.7,272L497.2,273.7L498.9,274.1L499.4,275.8L497.8,278.1L499.1,279.5L500.3,281.1L502.6,282.2L503,284.5L504.1,285L504.4,286.2L501.4,287.5L500.9,290.5L496.6,289.8L494.1,289.2L491.5,288.8L490.2,285.6L489.1,285.2L487.4,285.6L485.3,286.9L482.5,286L480,284L477.7,283.3L476,280.8L473.9,277.3L472.7,277.7L471.2,276.9L470.5,277.9L469.1,276.5L468.9,275.1L468.2,275.1L468.3,273.2L466.9,271.3L464,269.8L462.1,267.3L462.3,265.3L463.3,264.4L462.9,262.9L461.3,262.1Z"/><path d="M461.3,262.1L462.9,262.9L463.3,264.4L462.3,265.3L462.1,267.3L464,269.8L466.9,271.3L468.3,273.2L468.2,275.1L468.9,275.1L469.1,276.5L470.5,277.9L469.2,277.7L467.7,277.5L466.4,280L462.2,279.8L455.4,274.6L451.9,272.8L449.1,272.1L447.9,268.9L452.3,266.2L452.7,263L452.2,261.1L453.3,260.5L454.2,258.8L455,258.4L457.6,258.8L458.4,259.4L459.4,259Z"/><path d="M447.9,268.9L443.9,271.7L441.3,270.6L441.5,270.2L441.4,269.1L441.8,267.7L442.8,266.7L442.4,265.7L441.4,265.6L440.9,263.6L441.3,262.5L441.8,261.9L442.3,261.4L442.2,259.9L443,260.4L445.3,259.7L446.5,260.2L448.3,260.2L450.6,259.2L451.8,259.3L454.2,258.8L453.3,260.5L452.2,261.1L452.7,263L452.3,266.2Z"/><path d="M441.4,269.1L440.8,269.2L440.7,269.6L439.9,269.6L440.5,267.5L441.3,265.7L441.4,265.6L442.4,265.7L442.8,266.7L441.8,267.7Z"/><path d="M441.1,271.5L441.2,273.1L441,273.8L440,274.2L440,273.5L440.5,273.1L439.9,272.8L440.2,271.1Z"/><path d="M441.1,271.5L441.3,270.6L443.9,271.7L447.9,268.9L449.1,272.1L448.7,272.5L444.5,273.8L447,276.4L446.3,276.8L446,277.7L444.4,278L443.9,279L443,279.8L440.5,279.4L440.4,279L441.1,274.8L441,273.8L441.2,273.1Z"/><path d="M440.5,279.4L443,279.8L443.9,279L444.4,278L446,277.7L446.3,276.8L447,276.4L444.5,273.8L448.7,272.5L449.1,272.1L451.9,272.8L455.4,274.6L462.2,279.8L466.4,280L468.4,280.3L469.1,281.5L470.6,281.5L471.8,283.7L472.9,284.3L473.4,285.2L475,286.3L475.3,287.4L475.2,288.3L475.5,289.2L476.3,289.9L476.6,290.7L477,291.4L477.8,291.9L478.4,291.7L478.9,292.7L479,293.3L480.1,296L487,297.3L487.4,296.7L488.6,298.6L487.5,303.8L481,306.4L474.5,307.4L472.5,308.6L471,311.3L470,311.8L469.4,310.9L468.5,311L466.3,310.8L465.9,310.5L463.2,310.6L462.6,310.8L461.6,310.1L461.1,311.4L461.4,312.5L460.5,313.3L460.1,312.2L459.4,311.4L459.1,310.4L457.9,309.5L456.6,307.3L455.8,305.1L454.1,303.4L453.1,302.9L451.4,300.4L451,298.6L451.1,297.1L449.6,294.2L448.4,293.1L447.2,292.6L446.4,291.1L446.5,290.5L445.7,289.2L445,288.6L444,286.7L442.5,284.5L441.2,282.8L440.1,282.8L440.3,281.3L440.3,280.4Z"/><path d="M481,306.4L483.1,310.7L483.9,312.5L482.4,313.2L482,314.4L482,315.3L479.8,316.4L476.2,317.6L474.3,319.5L473.3,319.6L472.6,319.4L471.3,320.5L469.9,321L467.9,321.2L467.4,321.3L466.9,322L466.3,322.2L466,322.9L464.8,322.8L464.1,323.1L462.5,323L461.9,321.5L461.9,320.1L461.5,319.3L460.9,317.4L460.2,316.3L460.7,316.2L460.4,315L460.6,314.5L460.5,313.3L461.4,312.5L461.1,311.4L461.6,310.1L462.6,310.8L463.2,310.6L465.9,310.5L466.3,310.8L468.5,311L469.4,310.9L470,311.8L471,311.3L472.5,308.6L474.5,307.4Z"/><path d="M487.4,296.7L487.4,295.7L487.9,294.6L487.8,293.5L488.8,293L488.4,292.7L488.4,291L489.5,291L490.7,292.7L492.1,293.7L493.8,294L495.1,294.5L496.3,296L497,296.9L497.8,297.2L497.9,297.8L497.2,299.3L496.9,300.1L496,300.9L495.4,302.7L494.3,302.5L493.9,303.2L493.7,304.5L494.1,306.2L493.9,306.6L492.8,306.5L491.5,307.5L491.4,308.8L490.9,309.3L489.5,309.3L488.7,310L488.7,311L487.7,311.8L486.4,311.5L485,312.4L483.9,312.5L483.1,310.7L481,306.4L487.5,303.8L488.6,298.6ZM489,288.9L489.5,291L488.4,291L488.5,288L489,287.1L489.3,287.3Z"/><path d="M478.9,292.7L479.3,292.6L479.4,293.3L481.1,292.9L483,293L484.4,293L485.7,291.3L487.2,289.6L488.5,288L488.4,291L488.4,292.7L488.8,293L487.8,293.5L487.9,294.6L487.4,295.7L487.4,296.7L487,297.3L480.1,296L479,293.3Z"/><path d="M477,291.4L476.7,289.5L477.2,288.1L477.8,287.9L478.5,288.7L478.7,290.2L478.4,291.7L477.8,291.9Z"/><path d="M469.2,277.7L469.8,278.9L469.7,279.5L470.6,281.5L469.1,281.5L468.4,280.3L466.4,280L467.7,277.5Z"/><path d="M450.6,247.7L450.7,246.6L449.8,244.8L448.5,243.9L447.2,243.5L446.3,242.8L446.5,242.5L448.4,242.9L451.5,243.3L454.6,244.6L455.1,245L456.3,244.6L458.3,245.2L459.2,246.2L460.6,246.8L460.2,247.2L461.5,248.6L461.3,248.9L460.1,248.7L458.4,248L457.9,248.4L455.1,248.8L452.8,247.6Z"/><path d="M455.1,248.8L457.9,248.4L458.5,249.1L459.4,249.5L459.1,250.2L460.4,251.1L460,251.9L461,252.6L462,253L462.4,254.8L461.6,254.9L460.5,253.4L460.4,253L459.5,253L458.7,252.3L458.3,252.4L457.3,251.6L455.7,251L455.6,249.7Z"/><path d="M458.3,252.4L458.7,252.3L459.5,253L460.4,253L460.5,253.4L461.6,254.9L460.1,254.6L458.8,253.4ZM463,248.5L464,248.7L464.2,248L465.2,247L466.7,248.3L468.1,250.2L469.1,250.3L469.9,251L468.2,251.2L468.3,253.2L468.1,254.1L467.4,254.7L467.7,256L467.2,256.1L465.6,254.8L466.1,253.5L465.3,252.7L464.6,252.9L462.4,254.8L462,253L461,252.6L460,251.9L460.4,251.1L459.1,250.2L459.4,249.5L458.5,249.1L457.9,248.4L458.4,248L460.1,248.7L461.3,248.9L461.5,248.6L460.2,247.2L460.6,246.8L461.3,246.9Z"/><path d="M691.2,391.9L691.7,394L693.3,393L694.8,395.1L694.4,396.3L694.5,398.5L694.6,399.8L695.3,402.4L694.8,403.7L695.1,405.5L697.3,406.8L698.6,408.1L699.8,409.2L699.4,409.8L700.3,411.5L700.5,414.3L701.6,413.7L702.2,414.9L702.9,414.5L702.6,417.2L703.7,418.9L704.5,419.8L705.7,422L705.7,424L705.2,425.5L704.5,427.2L704.8,429.4L703.8,431.7L703,432.9L701.4,435.2L700.8,436.7L699.6,438.6L697.5,441L695.3,442.2L693.5,444.3L692.1,445.6L690.3,447.8L688.8,449.1L687.3,451.1L686,452.8L685.6,453.7L683.9,454.6L681.4,454.7L678.9,455.7L677.3,456.7L675.4,457.9L674.3,456.7L673.2,456.3L674.3,454.9L672.9,455.4L669.9,457.3L668.5,456.6L667.5,456.2L666.4,456L664.7,455.2L664.1,453.6L664.8,451.6L665.4,449.3L664.4,449.3L662.4,448.9L663.8,447.7L664.2,445.7L662.2,447.6L660.1,448L661.9,446.6L662.9,445.1L664.3,443.8L665,441.9L662.3,444.1L660.5,445L658.7,447.1L657.5,446L658.2,444.6L657.6,442.7L656.9,441.7L657.5,441.1L655.4,439.5L653.9,439.5L652.2,438.2L648.2,438.5L645,439.4L642.2,440.3L640.1,440.1L637.3,441.4L635.2,442L634.2,443.4L633,444.5L631.1,444.5L629.6,444.7L627.9,444.3L626.2,444.6L624.6,444.7L622.8,446.1L622.2,445.9L620.8,446.7L619.5,447.5L617.9,447.4L616.5,447.4L614.8,445.8L613.8,445.3L614.4,443.8L615.7,443.4L616.2,442.8L616.5,441.9L617.4,440.1L617.7,438.5L617.4,435.9L617.5,434.4L618,432.9L617.6,431.2L617.8,430.4L617.1,429.4L617.4,427.3L616.6,425.3L616.6,424.2L617.3,425.3L617.1,422.9L618.1,423.6L618.5,424.6L618.8,423.3L618.1,421.3L618.1,420.4L617.7,419.6L618.2,418.1L618.8,417.5L619.4,416.2L619.4,414.7L620.7,412.8L620.5,414.8L621.8,413L623.8,412.1L625.1,411L627,410L628,409.8L628.6,410.2L630.6,409.2L632,408.9L632.4,408.3L633.1,408.1L634.3,408.1L636.9,407.4L638.3,406.2L639.1,404.8L640.7,403.5L641,402.5L641.3,401L643.2,398.8L643.8,401.1L644.9,400.6L644.3,399.3L645.2,398L646.1,398.6L646.7,396.6L648.1,395.4L648.8,394.3L650,393.9L650.2,393.1L651.1,393.5L651.2,392.8L652.3,392.4L653.5,392.1L655,393.3L656,394.8L657.5,394.8L658.9,395.1L658.6,393.6L660,391.5L661.1,390.9L660.8,390.2L662,388.7L663.5,387.8L664.7,388.1L666.7,387.6L666.8,386.3L665.2,385.4L666.4,385.1L667.9,385.7L669,386.8L670.8,387.4L671.5,387.2L672.8,388L674.3,387.2L675.1,387.5L675.7,387L676.6,388.2L675.8,389.6L674.8,390.7L674,390.8L674.1,391.8L673.2,393.1L672.2,394.4L672.3,395.2L673.9,396.6L675.5,397.4L676.5,398.3L677.9,399.9L678.5,399.9L679.6,400.5L679.8,401.3L681.8,402.2L683.5,401.3L684.2,399.9L684.8,398.8L685.4,397.3L686.4,395.3L686.3,394L686.6,393.2L686.5,391.8L687.1,389.8L687.6,389.3L687.4,388.4L688.1,387L688.8,385.6L688.9,384.8L689.9,383.8L690.4,385.1L690.3,386.7L690.9,387.1L690.8,388.2L691.5,389.5L691.4,391ZM670.7,462.4L672.2,463.3L673.6,463L675.5,462.5L676.7,462.6L674.8,465.7L673.5,466.6L671.9,468.7L671.6,468L669,469.7L668.6,469.6L667.4,469.5L667.6,467.3L668.5,465.6L668.7,463.4L669.4,462.2Z"/><path d="M688,362.8L691.9,364.6L696.1,366.1L697.6,367.4L698.8,368.7L699,370.3L702.8,371.9L703.2,373.3L701.1,373.5L701.4,375.3L703.3,377L704.6,379.8L705.9,379.7L705.7,380.8L707.4,381.3L706.7,381.8L709,382.9L708.7,383.6L707.1,383.8L706.6,383.1L704.7,382.8L702.4,382.4L700.8,380.8L699.7,379.3L698.7,377.1L695.8,375.9L693.8,376.7L692.3,377.5L692.4,379.4L690.5,380.4L689.3,379.9L686.9,379.8L687.5,371.3ZM711.2,371.2L709.9,371.9L708.7,372.5L707.5,372.5L705.6,371.7L704.4,371L704.6,370.2L706.6,370.6L707.9,370.4L708.3,369.1L708.7,369.1L708.8,370.4L710.1,370.3L710.8,369.3L712.2,368.4L712,366.9L713.4,366.8L713.9,367.2L713.7,368.7L712.8,370.3L711.6,370.5ZM713.8,364.5L715.5,366.4L715.7,367.7L714.9,368.5L714.6,366.9L714.1,365.9L713.1,365L711.8,363.9L710.2,363.2L710.9,362.5L712.1,363.3L712.9,363.8ZM719.3,369.9L719.9,370.5L720.9,372.2L721.9,373.1L721.5,373.8L720.9,374.1L720,373.1L719.1,371.4L718.7,369.4L719.1,369.2Z"/><path d="M729.5,380.3L731.3,380.5L732.2,381.7L730.9,381.8L729.6,381.3ZM732.1,377.7L733.3,379.2L734.2,381.1L733.3,381.3L732.3,379.5ZM726.8,375.3L728.5,376.4L730.4,377.9L729.9,378.4L728,377.1L726.7,375.8ZM723,373.5L724.3,374.3L725.1,375.3L724,375.1L723,374ZM733.1,382.9L734.7,383.1L735.4,384.2L733.8,384.2ZM723.8,377.1L725.2,376.9L725.8,378.4L724.6,378.7Z"/><path d="M743.4,394.4L744.5,394.9L744.3,397L743.4,396.7ZM744.2,397.5L745.3,398.5L744.5,399.3Z"/><path d="M737.7,411L739.1,412.6L740,413.8L739,414.5L737.9,413.8L736.6,412.6L735.5,411.2L734.5,409.4L734.4,408.5L735.3,408.5L736.4,409.4L737.2,410.3Z"/><path d="M766.1,402.2L767.2,401.4L769.1,401.9L769,403.2L767.1,403.8L766.1,403.2ZM769.6,399.8L771.7,398.8L773.1,398.3L772.8,399.1L770.9,400.4Z"/><path d="M305.4,311.5L305.6,311.3L305.9,311.2L306.2,311.3L306.4,311.5L306.2,311.7L305.9,311.8L305.6,311.7ZM307.2,312.7L307.4,312.5L307.7,312.4L307.9,312.5L308.1,312.7L307.9,312.9L307.7,312.9L307.4,312.9ZM310.6,312.3L310.7,312L310.8,311.9L310.9,312L311,312.3L310.9,312.6L310.8,312.7L310.6,312.6ZM310.7,314L310.8,313.7L311,313.6L311.3,313.7L311.4,314L311.2,314.3L311,314.4L310.8,314.3ZM308.7,316.6L308.9,316.1L309.2,315.9L309.4,316.1L309.6,316.6L309.4,317L309.1,317.2L308.9,317ZM307,317L307.1,316.7L307.3,316.6L307.5,316.7L307.6,317L307.5,317.2L307.3,317.3L307.1,317.2Z"/><path d="M222.1,311.4L222.2,311.1L222.4,311.1L222.5,311.1L222.6,311.4L222.5,311.6L222.3,311.7L222.2,311.6ZM222.3,313.7L222.5,313.4L222.9,313.2L223.2,313.4L223.4,313.7L223.2,314L222.8,314.2L222.5,314ZM222.8,315.8L222.9,315.4L223.1,315.3L223.2,315.4L223.3,315.8L223.2,316.2L223,316.3L222.9,316.2ZM223.4,317.8L223.6,317.4L223.7,317.2L223.9,317.4L224,317.8L223.8,318.2L223.7,318.3L223.5,318.2ZM223.5,319.7L223.6,319.4L223.7,319.3L223.8,319.4L223.8,319.7L223.7,320L223.6,320.1L223.5,320ZM222.8,321.4L222.9,321.2L223,321.1L223.1,321.2L223.2,321.4L223.1,321.6L223,321.7L222.9,321.6ZM226.5,321.7L226.6,321.4L226.8,321.3L226.9,321.4L227,321.7L226.9,321.9L226.7,322L226.6,321.9ZM221.5,324.4L221.6,324.2L221.7,324.2L221.8,324.2L221.9,324.4L221.8,324.6L221.7,324.7L221.5,324.6Z"/><path d="M462,386.5L462.1,386.1L462.4,385.9L462.6,386.1L462.7,386.5L462.5,387L462.3,387.2L462.1,387ZM464.3,387.8L464.5,387.7L464.7,387.6L464.9,387.7L465,387.8L464.9,388L464.7,388.1L464.5,388ZM466.1,389.4L466.2,389.1L466.3,389L466.5,389.1L466.6,389.4L466.5,389.7L466.3,389.8L466.2,389.7Z"/><path d="M492.8,408.9L493,408.3L493.3,408.1L493.6,408.3L493.8,408.9L493.5,409.4L493.2,409.6L492.9,409.4Z"/><path d="M377.9,355.3L378.1,355L378.2,354.8L378.4,355L378.5,355.3L378.4,355.7L378.2,355.9L378.1,355.7Z"/><path d="M382.6,346.9L382.8,346.3L383,346.1L383.3,346.3L383.5,346.9L383.3,347.4L383,347.6L382.8,347.4Z"/><path d="M484.8,323.4L485.3,323.1L486.1,323L487,323.1L487.5,323.4L487,323.6L486.2,323.8L485.4,323.6Z"/><path d="M475.9,288L475.9,287.6L476.1,287.5L476.2,287.6L476.3,288L476.3,288.4L476.2,288.5L476,288.4Z"/><path d="M500.7,485.4L501.9,483L503.2,483.3L505,483.6L504.9,484.1L503.9,485.3Z"/><path d="M490.5,368.1L490.6,367.9L490.8,367.7L491,367.9L491.1,368.1L491,368.4L490.8,368.5L490.6,368.4Z"/><path d="M532.1,345L532.1,344.8L532.3,344.6L532.4,344.8L532.5,345L532.4,345.3L532.3,345.4L532.2,345.3Z"/></g><g stroke="#333" stroke-width="0.3" stroke-linejoin="round"><path fill="#31a354" d="M115.5,228.5L121.2,228.5L127.2,228.5L129.2,228.5L135.4,228.5L141.3,228.5L147.3,228.5L153.4,228.5L160.2,228.5L167.1,228.5L171.3,228.5L171.8,227.6L172.5,227.5L172.1,228.9L172.5,229.4L173.9,229.5L175.7,229.9L177.3,230.7L179.1,230.4L181.3,231L182,231L184.1,230.3L189.7,233.9L189.6,234.5L190,234.8L189.7,235.1L190.2,235.1L190.7,234.9L190.6,235.5L190.8,235.9L191.4,235.9L191.6,236.2L191.1,236.6L192.8,237.8L192.3,240.2L191.8,242.4L190.6,243.9L189.1,245.4L188.3,246.3L188.2,246.5L188.3,246.9L188.8,247.3L189.4,247.3L192.3,245.9L194.6,245.5L197.8,244.2L198,244L198.1,243.2L197.9,242.7L199,242.3L203,242.3L204,241.3L204.3,241.1L207.2,239.2L208.3,238.7L215.3,238.7L215.7,238.1L216.4,237.9L217.4,237.6L218.5,236.4L219.9,234.4L222.1,232.5L222.5,233.1L224.1,232.7L224.7,233.4L223.5,236.9L224.4,238.4L224.5,239.2L221.9,240.5L219.4,241.4L217,242.1L215.4,243.7L214.8,244.2L214.4,245.6L214.6,247L215.5,247L215.5,246.1L216,246.7L215.6,247.4L214.1,247.8L213.1,247.8L211.4,248.2L210.4,248.4L209.1,248.5L207.1,249.2L210.4,248.7L210.8,249.2L207.6,250L206.3,250L206.5,249.7L205.6,250.4L206.2,250.5L205.2,252.4L203,254.4L203.1,253.7L202.6,253.6L202.1,252.9L202.1,254.3L202.5,254.8L202.3,255.8L201.3,256.8L199.5,258.9L199.3,258.8L200.5,257L199.7,256L200.1,253.8L199.3,255L199.3,256.6L198,256.2L199.3,257L198.6,259.5L199.2,259.7L199.2,260.6L198.8,263.2L196.9,265.1L194.4,265.9L192.6,267.4L191.5,267.6L190.1,268.6L189.6,269.4L186.8,271.1L185.2,272.4L183.8,273.9L183.1,275.8L183.1,277.6L183.3,279.8L183.9,281.7L183.7,282.8L184.2,285.8L183.8,287.6L183.6,288.6L182.8,290.2L182,290.5L181,290.2L180.8,289.1L180.1,288.5L179.3,286.2L178.6,284.2L178.5,283.2L179.3,281.5L178.9,280L177.7,277.9L176.9,277.5L174.4,278.6L174,278.5L173.3,277.3L172,276.7L169.4,277L167.5,276.7L165.8,276.9L164.8,277.3L165,278L164.8,279L165.1,279.6L164.6,279.9L163.9,279.5L162.9,280L161.3,279.9L160,278.5L158,278.9L156.5,278.3L155.1,278.5L153.1,279.1L150.6,281L148.1,282.1L146.6,283.4L145.8,284.5L145.4,286.3L145.3,287.6L145.5,288.5L144.6,288.6L143.2,288L141.6,287.2L141.2,285.9L141.2,284.1L140.2,282.6L139.8,281.1L139.1,279.3L137.8,278.3L136,278.3L134.1,280.4L132.4,279.6L131.5,278.8L131.3,277.4L131,276L130,274.9L129.2,274L128.6,273.1L124.8,273.1L124.5,274.2L122.7,274.2L118.3,274.2L113.9,272.4L111,271.1L111.4,270.6L108.5,270.9L106,271.1L106.1,269.7L105.2,268.2L104.3,267.9L104.4,267.2L103.2,267L102.7,266.3L100.8,266.1L100.4,265.7L100.7,264.2L99.7,261.6L99.5,258L99.9,257.4L99.4,256.6L98.7,254.4L99.5,252.2L99.1,250.8L100.7,248.7L101.8,246.5L102.3,244.5L104.5,242.1L107.8,237.4L109.5,234L110.3,231.8L110.4,230.6L111,230.1L113.4,231L113,233.4L113.9,232.7L114.9,230.6ZM109.7,176L109.5,176.9L110.8,176.5L113.4,176.7L112.6,177.2L114.6,177.5L116.5,177.3L119.1,178L122,178.2L122.9,178.5L125.5,178.1L127.2,178.8L128.6,179.1L118.7,187.4L104.2,200.6L105.9,200.7L107,201.4L107.2,202.4L107.3,204L110.4,202.7L113,201.9L112.8,203.1L113.1,204.1L113.8,205.2L113.3,206.9L112.8,209.7L114.6,211.3L113.4,212.8L111.3,214L111,213.1L110,212.3L111.3,210.2L110.7,208.2L111.8,205.9L110.1,205.7L107.2,205.7L105.7,205L104.3,202.5L103,202L100.7,201.2L97.9,201.4L95.5,200.3L94.4,199.3L91.8,199.8L90.4,201.4L89.2,201.6L86.5,202.1L84,202.9L81.4,203.4L82.7,202L86.1,199.6L88.9,198.9L89,198.3L85.3,199.6L82.2,201.2L77.7,202.9L77.7,204.1L74.1,205.8L71,206.8L68.3,207.6L66.6,208.7L62.3,209.9L60.5,211.1L57.2,212.1L56.1,211.9L53.6,212.6L50.7,213.5L48.2,214.3L44.2,215L44.3,214.6L47.7,213.4L50.4,212.7L53.8,211.3L56.5,211L58.5,210L62.7,208.6L63.7,208.1L66,207.2L68.4,205.4L70.9,204L67.9,204.7L67.8,204.3L65.8,205.2L66,203.9L64.5,204.8L65.1,203.6L62.2,204.6L61,204.6L62.6,203.1L63.9,202.3L63.7,201.4L60.8,201.9L60.6,200.7L60,200.2L61.6,198.8L61.5,197.8L63.9,196.5L67,195.2L69.2,193.9L70.8,193.8L71.6,194.1L74.4,193L75.5,193.2L77.8,192.5L78.8,191.5L78.3,191L80.8,190.1L79.7,190.2L77.1,190.7L75.9,191.2L75.2,190.7L72.4,190.9L70.5,190.4L71,189.4L70.6,188.1L74.4,187.2L79.8,186.1L81.2,186.1L79.4,187.2L83.2,187.1L83.7,185.7L82.7,184.8L83.1,183.7L82.7,182.8L81.4,182.1L84,180.9L87.1,180.8L90.7,179.8L92.6,178.8L95.8,177.7L97.8,177.5L102.4,176.5L103.6,176.7L107.9,175.5ZM76.6,206.4L76.6,207.2L73.7,208.3L70.8,209.3L70.5,208.6L71.5,207.5L74.1,206.6L75.5,206.3ZM58.4,192.5L58.9,192.9L60.3,192.7L60.9,193.3L62.3,193.6L61.8,193.8L59.8,194.3L59.1,193.8L59,193.4L57.2,193.5L57.1,193.3ZM57.6,200.5L58.8,200.7L57.9,201.6L56.3,202L55.6,201.5L55.3,200.9ZM10.2,306.2L9.8,306.6L9.3,306.3L9.5,305.5L9.4,304.6L9.6,304.3L10.1,303.9L10,303.4L10.2,303.1L10.4,303.1L11.1,303.6L11.5,303.8L11.8,304.2L12.1,305.1L12,305.2L11,305.8ZM9.7,301.4L10.2,301.8L9.9,302.1L9.2,302.3L8.9,301.8L8.7,301.6L8.7,301.4L9,301.2ZM7.7,300.6L8.8,300.7L8.6,301L7.4,300.9ZM6.8,300.4L6.7,300.5L6.5,300.5L5.7,300.4L5.6,299.8L5.6,299.7L6.2,299.3L6.4,299.5ZM3.4,298.6L3.1,298.9L2.5,298.4L2.6,298.2L3,298L3.5,298Z"/><path fill="#c2e699" d="M115.5,228.5L121.2,228.5L127.2,228.5L129.2,228.5L135.4,228.5L141.3,228.5L147.3,228.5L153.4,228.5L160.2,228.5L167.1,228.5L171.3,228.5L171.8,227.6L172.5,227.5L172.1,228.9L172.5,229.4L173.9,229.5L175.7,229.9L177.3,230.7L179.1,230.4L181.3,231L182,231L184.1,230.3L189.7,233.9L189.6,234.5L190,234.8L189.7,235.1L190.2,235.1L190.7,234.9L190.6,235.5L190.8,235.9L191.4,235.9L191.6,236.2L191.1,236.6L192.8,237.8L192.3,240.2L191.8,242.4L190.6,243.9L189.1,245.4L188.3,246.3L188.2,246.5L188.3,246.9L188.8,247.3L189.4,247.3L192.3,245.9L194.6,245.5L197.8,244.2L198,244L198.1,243.2L197.9,242.7L199,242.3L203,242.3L204,241.3L204.3,241.1L207.2,239.2L208.3,238.7L215.3,238.7L215.7,238.1L216.4,237.9L217.4,237.6L218.5,236.4L219.9,234.4L222.1,232.5L222.5,233.1L224.1,232.7L224.7,233.4L223.5,236.9L224.4,238.4L226.8,238.1L230.1,238L226.5,239.8L225.2,242.3L226.8,242.5L229.7,240.6L232,239.6L237.1,238L239.7,236.4L240.1,236.4L239.5,233.6L238.1,234.9L236.6,236.5L233.6,236.9L232.2,236.4L230.8,235.6L230.5,233.6L230.9,231.3L231.4,231.6L228.5,231.1L232.5,230.3L233.5,229.2L233.5,228.4L229,228.2L224.1,230.3L220.9,231.7L217.7,234.1L221.8,230.7L224.9,228.3L228,227.2L230.3,225.4L235.5,225.3L239.6,225.8L243.1,225.4L246.3,223.3L249.9,222.4L253.3,220.6L254.1,217.8L252.3,214.4L248.5,213L245.4,210.2L246.8,208.7L245.9,205.8L244.5,200.6L242.7,201.7L239.7,204.3L235.7,204.3L234.2,203.9L235.1,200.8L236.2,198.9L233,198.7L230.2,195.6L228.4,196.2L224,195.3L222.4,195.9L220.8,199.6L220.4,201.7L216.8,204.3L218.1,206.1L218.2,208.1L217.5,209.8L215.6,211.5L212.6,213.2L208.9,214.3L209.6,215.6L208.7,219.6L206.4,222.2L203.1,223L202.7,220.6L202.6,217.8L204.8,213.1L199.8,212.8L196.3,211.1L195.6,209.9L194.3,209L191.4,207.9L188.5,208.4L188.8,206.6L189.4,204.3L186.9,203.9L188.9,201.1L191,199.2L194.8,196.6L198.4,194.7L200.6,194.4L201.8,192.9L203.9,191.9L206.6,191.7L209.7,190.2L213.9,187.2L215.3,186.1L216.6,186.8L219.2,186.4L223.6,184.9L224.6,183.8L224.3,182.6L226.3,181.4L227,180.3L225.6,179.2L223.4,178.9L221.1,178.7L219.2,181.1L216.5,183L213.6,184.7L213.1,183.2L214.8,181.5L213.9,180.1L210.3,181.8L212.1,179.5L209.4,179.1L211.7,178L211.6,175.6L210.8,174.7L209,174.3L205.6,175.9L203.3,178.3L204.5,179.1L205.2,180.5L202.6,182.7L201.3,182.7L198.8,184.5L200.5,182.3L198.5,181.6L196.7,182L195.7,183.4L193.3,183.3L190.3,183.6L188.2,182.6L186.2,182.8L185.5,181.6L184.7,181.1L183.1,181.3L181,181.4L179.2,182.2L180,183.1L177.1,184.3L176.6,182.9L174.8,183.3L169.9,183.6L167.3,183.1L170.8,182L169.5,180.9L167.9,181L165.9,180.6L162.8,179.8L161.2,178.9L158.1,179.4L155.6,179.8L157.3,178.1L153.4,179.6L152.8,177.6L151.9,177.4L150.4,178.4L148.6,178.9L145.1,178.6L141.5,179.5L139.3,179.3L136.5,179.9L133.9,180.9L131.1,179.6L128.6,179.1L118.7,187.4L104.2,200.6L105.9,200.7L107,201.4L107.2,202.4L107.3,204L110.4,202.7L113,201.9L112.8,203.1L113.1,204.1L113.8,205.2L113.3,206.9L112.8,209.7L114.6,211.3L113.4,212.8L111.3,214L110.3,215.3L111.1,217.1L109.8,219.1L111.5,220.2L110.1,221.7L109.5,223.9L112.4,224.9L112.7,226.5L113.9,227.8ZM113.4,229.8L112.1,230.1L109.6,229L109.6,228.1L108.4,227.2L108.5,226.5L106.7,226L107,224.6L107.6,224.1L109.2,224.6L110.2,225L111.9,225.2L111.9,226.1L112.1,227.3L113.5,228.4ZM105.5,215.9L107.5,215.7L104.6,218.5L104.7,220.5L103.9,220.5L103.6,219.4L103.8,218.2L103.5,217.5L104,216.4L104.8,215.6ZM251.2,224.3L249.2,226.5L250.8,225.6L252,226.2L251,227L252.5,227.7L253.7,227.1L255.4,227.9L254.3,229.8L255.8,229.3L255.7,230.7L255.9,232.2L254.5,234.5L253.5,234.6L252.3,234.1L253.3,232L252.8,231.7L249.8,233.9L248.6,233.8L250.4,232.6L248.7,232L246.4,232.2L242.5,232.1L242.4,231.3L244,230.4L243.3,229.8L245.5,228.2L248.8,224.2L250.5,222.8L252.5,221.9L253.4,222L252.8,222.7ZM232.7,234.8L234.1,235.1L236,235.1L234.7,236.1L233.9,236.3L231.6,235.2L231.4,234.3L232.4,233.5ZM238.6,228.3L237.6,228.3L235.2,227.5L233.8,226.3L234.6,226.1L237,226.7L238.7,227.8ZM225.2,171.7L225.3,173L228.3,171.3L233,170.5L234,172.6L232.6,174L236.3,173.4L238.5,172.6L241.2,173.6L242.7,174.6L242.2,175.6L245.6,175.1L246.4,176.5L249.8,177.3L250.7,178.2L251,180.2L247.3,181.3L250.4,182.7L252.9,183.2L254.2,185.3L256.8,185.4L255.5,187L251,189.6L249.4,188.7L247.9,186.5L245.5,186.8L244.5,188.1L245.6,189.4L247.4,190.5L247.8,191.1L247.8,193.4L246.4,195.1L244.4,194.4L240.9,192.5L242.4,194.6L243.5,196L243.4,196.8L239,195.9L235.9,194.5L234.3,193.4L235.3,192.7L233.4,191.5L231.5,190.4L231.1,191.1L225.8,191.4L224.8,190.6L227,188.9L230.3,188.9L234.1,188.6L234,187.8L235.3,186.7L238.8,184.5L239,183.5L238.8,182.7L236.9,181.6L234,180.9L235.4,180.3L234.6,179L233.2,178.8L232.4,178.1L231.1,178.7L227.9,179L222.2,178.5L219.2,177.9L216.8,177.6L216.1,176.8L218.6,175.8L216.3,175.8L217.7,173.6L220.6,171.8L223,170.9L227.5,170.4ZM180,171.4L181.2,171.8L179.2,172.8L183.5,172.1L184.6,173.2L187.6,172.1L188.3,172.8L187.4,174.9L189.1,174L190.3,171.9L192,171.5L193.3,171.9L194.1,172.7L193,174.8L192,176.3L193.7,177.4L195.7,178.4L194.7,179.4L191.8,179.5L192.1,180.4L190.8,181.2L188.1,180.8L185.8,180.3L183.7,180.4L179.8,181.1L175.3,181.5L172.1,181.7L172.2,180.6L170.5,180L168.8,180.3L168.5,178.5L169.9,178.3L172.8,177.9L175,178L177.6,177.6L174.9,177.2L171.2,177.3L168.9,177.3L169,176.5L173.7,175.6L171.2,175.6L169,175.1L172.2,173.5L174.3,172.7ZM166.8,175.5L161.3,176.5L161.5,175.6L159.1,174.4L160.9,173.5L164,172L167.1,170.6L167.2,169.4L172.9,169L174.6,169.5L178.5,169.6L179.3,170.2L179.9,171L177.3,171.6L171.6,173.1L167.9,174.5ZM198,165.5L197.7,166.2L199.5,165.9L201,166L200.1,166.9L198,167.9L192.4,168.2L187.4,169.1L184.9,169.2L185.6,168.5L189.9,167.6L182.6,167.8L180.9,167.5L185.6,165.5L187.8,165L191.2,165.6L192.4,166.8L194.9,167L195.1,165.1L197.4,164.4L198.7,164.6ZM175.4,165.7L180.1,164.2L185,163L187.3,163L189.8,162.7L187.5,164.2L185.3,164.9L183.8,165L179.8,165.8L176.9,166.1ZM269.8,153.2L273.3,153.4L276,153.6L278.1,154L277.7,154.4L273.7,155.1L270,155.4L268.4,155.7L271.5,155.7L267.2,156.7L264.5,157.2L260.7,158.6L257.4,158.9L256.1,159.3L251.5,159.5L253.3,159.7L251.9,160.1L252.2,161L250.2,161.7L247.4,162.2L245.9,163L243.3,163.5L243.1,164L245.7,163.9L245.3,164.4L240.1,165.5L236.7,165L231.9,165.3L229.9,165.1L227.1,165L227.9,164L231.2,163.6L232,162.2L233,162.1L236.1,162.9L235.4,161.7L233.4,161.3L235.5,160.6L238.6,160.1L239.7,159.5L238.5,158.7L239,157.8L242.8,157.9L243.7,158.1L246.6,157.5L243.7,157.3L238.6,157.4L236.8,156.8L236.4,156.1L235.4,155.7L235.8,155.1L238.3,154.8L240,154.8L243,154.5L245.7,153.9L247.3,154L248.3,154.4L250.3,153.6L252.4,153.4L255.1,153.2L259.3,153.1L259.8,153.3L264.1,153.1L266.9,153.1ZM237.6,158.9L236,160L231.7,161.5L228.9,161.6L226.1,161.4L225.5,160.6L226.3,159.9L228.1,159.4L225.4,159.4L224.6,158.8L224.8,158L226.8,157.2L228.5,156.7L230.1,156.6L230,156.2L233.3,156.1L234,157.1L235.9,157.4L236.7,158.1ZM239,168.1L237.5,168.6L234.8,169.1L233.1,168.8L228.3,169.1L225,169.2L222.7,168.9L219.3,168.2L219.8,167.1L220.7,166.1L220.1,165.3L217.2,165L216.2,164.4L217.7,163.6L220.6,163.7L221.6,164.4L224.6,164.4L225.2,165L224,165.8L225.3,166.2L225.8,166.7L227.8,166.8L229.9,166.9L232.7,166.5L236,166.3L238.4,166.5L239.4,167.2ZM213.9,172.5L210.7,174.1L208.9,174L209.7,172.2L210.7,171.1L212.4,170.3L214.5,169.7L217.7,169.8L220.3,170.3L216.2,172.1ZM206,174.9L202.6,175.7L201.2,175.5L200.8,174.7L198.4,173.1L199.2,172.4L202.2,172.7L201.8,171.3L204.7,170.3L206.2,170.7L209.2,170.5L209,171.1L206.6,172.1L208.1,173ZM214,164.5L214.1,165.4L213,166.4L210.6,167.9L207.9,168.1L206.6,167.8L207.9,166.6L205.2,166.8L206.9,165.2L208.5,165.3L211.6,164.6L213.6,164.7ZM217.7,167.9L216,168.7L213.9,168.6L212.6,168L214.4,167.1L217.2,166.6L217.8,167.3ZM200.5,178.1L201.8,178.8L202.4,179.2L202.9,180.4L201.2,181.2L199.5,180.5L197.9,180.8L196.5,179.8L198.6,179.1ZM214.9,188.1L214.5,189.1L215.6,188.8L216.3,189.4L217.6,190.2L219.2,190.9L218.6,192L220,191.8L220.8,192.6L218.8,193.3L216.4,192.8L216.1,191.7L213.5,193L210.2,194.2L210.5,192.8L207.9,193L210.2,191.9L211.7,190.1L213.8,188ZM214,194.5L216.4,194.5L216.1,195L213.2,196.3L212,196.2L212,195.6ZM219.2,195.7L219.9,195.8L220.1,196.3L218.6,197.5L217.9,197.3L217.9,196.6ZM234.5,171.4L235.2,170.6L236.1,170.5L239.6,170.7L241.4,171.8L241.1,172.4L239.4,172.3L237.8,172.3L235.8,172.6L235.4,172.5ZM233.1,184.8L231.2,184.9L231.5,183.8L233,182.5L234.7,182.2L235.7,182.8L235.1,183.8L234.7,184.1ZM212.6,159.8L215.5,160.5L215.5,161.4L215.1,162.2L212.9,162L211.3,161.4L208.1,161.3L210.3,160.7L209.1,160.3L210,159.6L212.5,159.8ZM220.7,160.4L222.3,161.2L221.1,161.9L218.4,162.3L217.8,161.9L218,161.1L218.9,160.4ZM200.1,160.4L200.7,160.5L202.1,160.9L199.8,161.2L197.3,161.2L197.7,161ZM195.6,161.4L198.9,162.6L195.2,163.2L194,162.6L193.3,162ZM206.6,162.6L206,163.7L204.5,163.6L204.6,162.8ZM204.2,217.9L205.4,218.6L204.2,219.1L202.5,218.6Z"/><path fill="#ffffcc" d="M162.2,321.1L161.9,321.7L160.6,321.7L159.8,321.4L158.9,320.9L157.6,320.7L157,320.1L157.1,319.8L158,319.1L158.4,318.8L158.3,318.5L158.9,318.4L159.5,318.6L160,319.1L160.6,319.5L160.7,319.9L161.7,319.6L162.2,319.7L162.5,320Z"/><path fill="#31a354" d="M172.3,334.5L171.1,333.9L170.7,333.4L171,333L170.9,332.4L170.3,331.8L169.5,331.2L168.7,330.9L168.6,330.1L168,329.7L168.1,330.4L167.6,331L167.1,330.3L166.4,330.1L166.1,329.6L166.2,328.8L166.5,327.9L165.9,327.6L166.5,327.1L166.9,326.7L168.3,327.4L168.9,327.1L169.6,327.3L169.9,327.8L170.6,328L171.2,327.4L171.7,328.9L172.5,329.9L173.5,331L172.6,331.3L172.5,332.3L173,332.7L172.6,333L172.7,333.5L172.5,334Z"/><path fill="#ffffcc" d="M183.9,337.2L183.2,336.4L182.7,335L183.3,334.3L182.8,334.1L182.4,333.2L181.3,332.5L180.3,332.7L179.8,333.6L178.8,334.3L178.3,334.3L178,334.9L179.1,336.3L178.4,336.6L178.1,337L177,337.2L176.7,335.6L176.3,336L175.6,335.9L175.2,334.8L174.3,334.6L173.7,334.4L172.7,334.4L172.6,334.9L172.3,334.5L172.5,334L172.7,333.5L172.6,333L173,332.7L172.5,332.3L172.6,331.3L173.5,331L174.3,332L174.2,332.5L175.1,332.6L175.3,332.4L175.9,333.1L177.1,332.9L178.1,332.2L179.5,331.7L180.3,330.9L181.6,331.1L181.5,331.3L182.8,331.4L183.7,331.9L184.5,332.6L185.3,333.4L185,333.8L185.5,335.3L185,336.1L184.3,335.9Z"/><path fill="#ffffcc" d="M221.5,327.9L222.9,327.6L223.3,327.7L223.2,329.6L221.2,329.9L220.8,329.7L221.5,328.9Z"/><path fill="#c2e699" d="M189.2,356.4L188.2,355.8L187.1,354.9L186.4,355.3L184.5,355L183.9,353.8L183.5,353.9L181.2,352.4L180.9,351.6L181.8,351.4L181.7,350.1L182.2,349.1L183.4,349L184.4,347.3L185.3,346L184.5,345.3L185,343.8L184.5,341.4L185.1,340.7L184.8,338.5L183.9,337.2L184.3,335.9L185,336.1L185.5,335.3L185,333.8L185.3,333.4L186.5,333.4L188.3,331.6L189.3,331.4L189.3,330.5L189.9,328.3L191.3,327.1L192.7,327L192.9,326.5L194.7,326.7L196.6,325.4L197.5,324.8L198.7,323.5L199.5,323.7L200.1,324.4L199.6,325.3L198.1,325.7L197.4,327L196.5,327.8L195.7,328.7L195.4,330.6L194.7,332.1L195.8,332.3L196.1,333.5L196.5,334L196.7,335.1L196.4,336.1L196.4,336.6L197,336.8L197.5,337.8L200.5,337.5L201.8,337.8L203.3,340.1L204.3,339.8L205.9,339.9L207.2,339.6L208,340.1L207.6,341.5L207.1,342.4L206.8,344.3L207.2,346L207.9,346.8L207.9,347.3L206.7,348.6L207.5,349.2L208.2,350.1L208.8,352.7L208.4,353.1L208,351.5L207.3,350.7L206.5,351.6L202.1,351.5L202.1,353.2L203.4,353.4L203.3,354.4L202.9,354.1L201.6,354.6L201.6,356.5L202.6,357.4L203,358.9L202.9,360.1L202,367.2L200.8,365.8L200.1,365.8L201.6,363.1L199.8,361.9L198.4,362.1L197.6,361.7L196.3,362.3L194.6,362L193.2,359.3L192.1,358.6L191.4,357.4L189.8,356.2Z"/><path fill="#c2e699" d="M204.8,401.9L204.3,403.2L203.2,403.9L200.7,402.4L200.4,401.3L195.7,398.7L191.3,395.9L189.4,394.2L188.3,392.1L188.6,391.3L186.4,387.9L183.8,383.1L181.4,377.9L180.4,376.7L179.6,374.8L177.7,373.1L176,372L176.7,370.9L175.5,368.4L176.2,366.5L178,364.9L178.3,366L177.6,366.6L177.7,367.6L178.7,367.4L179.6,367.6L180.6,368.9L181.9,367.9L182.3,366.1L183.6,363.8L186.4,362.8L188.9,360.1L189.6,358.4L189.2,356.4L189.8,356.2L191.4,357.4L192.1,358.6L193.2,359.3L194.6,362L196.3,362.3L197.6,361.7L198.4,362.1L199.8,361.9L201.6,363.1L200.1,365.8L200.8,365.8L202,367.2L200,367.1L199.6,367.5L197.8,368L195.2,369.8L195.1,371L194.5,371.9L194.8,373.3L193.4,374.1L193.5,375.2L192.9,375.6L194,378L195.3,379.6L194.9,380.7L196.4,380.8L197.4,382.2L199.4,382.3L201.2,380.8L201.2,384.7L202.3,385L203.6,384.6L205.8,388.8L205.4,389.7L205.4,391.5L205.5,393.7L204.7,395L205.2,396L204.8,396.9L205.9,399.1Z"/><path fill="#c2e699" d="M204.8,401.9L206,403.7L206.5,405.5L207.8,406.7L207.4,409.2L208.9,412.1L210.2,415.7L211.8,415.4L212.1,416L211.7,418.7L209.4,420L210,424.4L209.7,425.2L210.5,426.2L209.2,427.8L208.1,430.3L207.7,432.7L208.4,435.2L207.6,437.9L209.6,442.4L210.2,442.8L210.8,445.2L210.1,447.8L210.7,450L209.5,451.7L210.1,454.1L211.5,456.6L210.5,457.6L210.5,459.9L210.8,462.5L212.2,465.7L211.5,466.2L213,469.2L214.3,470.2L214,471.2L215.1,471.7L215.6,472.7L214.9,473.2L215.7,474.7L216.1,478.1L215.8,480.3L216.6,481.5L216.5,483.2L215.4,484.3L216.7,487L217.7,487.9L219,487.7L219.8,489.6L221.2,491L226.1,491.4L228.1,491.8L226.3,491.7L225.7,492.4L224.3,493.3L225,495.6L224.2,495.7L221.6,494.8L218.6,493.1L215.5,491.7L214.2,490.1L214.1,488.6L212.4,487L210.3,482.6L210.3,480.2L211.6,478.2L208.3,477.5L209.4,475.2L208.5,470.9L211.2,471.8L210.4,466.5L208.8,465.8L209.2,469.1L207.8,468.7L207.2,465L206.4,460.2L206.9,458.4L205.5,455.9L204.5,453L205.4,452.9L205.6,448.7L206.1,444.5L206.2,440.6L204.8,436.7L205.1,434.6L204.2,431.3L205,428.1L204.6,423.1L204.6,417.7L204.7,411.8L204.1,407.6L203.2,403.9L204.3,403.2ZM228.3,492.6L230.7,498.2L232.8,498.2L234,498.2L233.8,499.2L232.5,500L231.5,499.9L230.3,499.7L228.5,499L226.4,498.6L223.3,497.2L220.7,495.9L216.7,493.1L218.6,493.6L222.1,495.3L225,496.2L225.6,495.1L225.4,493.3L226.8,492.3Z"/><path fill="#c2e699" d="M216.4,413.6L217.9,415.5L218.6,413.4L221.2,413.5L221.6,414.1L226.2,418.3L228.1,418.7L231,420.7L233.4,421.7L233.9,422.8L232.2,426.8L234.5,427.5L237.1,427.9L238.8,427.5L240.6,425.5L240.7,423.2L241.7,422.7L243,424.2L243.2,426.3L241.5,427.7L240.2,428.8L238,431.3L235.5,434.9L235.3,437L235.2,439.6L235.7,442.2L235.3,442.8L235.4,444.5L235.6,445.9L238.8,448.1L238.8,449.9L240.4,451L240.6,452.3L239.2,455.6L236.4,457L232.2,457.6L229.8,457.3L230.6,458.9L230.7,460.8L231.4,462.1L230.4,463L228.3,463.4L226,462.4L225.4,463.1L226.4,465.7L228.1,466.5L229,465.6L230,467L228.3,467.8L227.1,469.4L227.6,472L227.5,473.4L225.6,473.4L224.4,474.7L224.5,476.6L227.1,478.5L229.2,479L229.3,481.3L227.4,482.7L227.2,485.7L225.7,486.7L225.4,487.8L227.1,490.4L229,491.9L228.1,491.8L226.1,491.4L221.2,491L219.8,489.6L219,487.7L217.7,487.9L216.7,487L215.4,484.3L216.5,483.2L216.6,481.5L215.8,480.3L216.1,478.1L215.7,474.7L214.9,473.2L215.6,472.7L215.1,471.7L214,471.2L214.3,470.2L213,469.2L211.5,466.2L212.2,465.7L210.8,462.5L210.5,459.9L210.5,457.6L211.5,456.6L210.1,454.1L209.5,451.7L210.7,450L210.1,447.8L210.8,445.2L210.2,442.8L209.6,442.4L207.6,437.9L208.4,435.2L207.7,432.7L208.1,430.3L209.2,427.8L210.5,426.2L209.7,425.2L210,424.4L209.4,420L211.7,418.7L212.1,416L211.8,415.4L213.4,413ZM228.3,492.6L229.6,493.8L231.3,495.6L234.5,497.1L237.5,497.7L237.1,499L235.3,499.1L234,498.2L232.8,498.2L230.7,498.2Z"/><path fill="#78c679" d="M221.6,414.1L222.2,410.9L222.1,409.5L223,407.2L226.9,406.5L229,406.5L231.2,407.9L231.3,408.7L232.1,410.1L232.3,413.7L234.7,414.2L235.6,413.7L237.2,414.4L237.7,415.1L238.1,417.5L238.5,418.5L239.3,418.6L240.1,418.2L241,418.7L241.1,420.1L240.9,421.7L240.7,423.2L240.6,425.5L238.8,427.5L237.1,427.9L234.5,427.5L232.2,426.8L233.9,422.8L233.4,421.7L231,420.7L228.1,418.7L226.2,418.3Z"/><path fill="#c2e699" d="M235.5,434.9L236.9,434.6L239.5,436.6L240.3,436.5L242.8,438.2L244.8,439.7L246.3,441.4L245.6,442.7L246.4,444.1L245.8,445.8L243.6,447.2L241.9,446.7L240.7,447L238.5,445.9L237.1,445.9L235.4,444.5L235.3,442.8L235.7,442.2L235.2,439.6L235.3,437Z"/><path fill="#c2e699" d="M409,175.9L414.6,177.5L412.6,178L414.8,179.4L412.2,180.3L410.9,180.5L411.2,179L408.9,178.1L406.5,178.8L406,180.5L404.6,181.4L402.7,180.9L400.5,181L398.4,179.8L397.6,180.4L396.5,180.5L396.5,182L393.3,181.6L393.1,182.8L391.4,182.8L390.5,184.4L389.1,186.9L386.8,190.1L387.5,190.9L387,191.8L385.2,191.8L384.3,194L384.7,197.1L386,198.3L385.6,201.1L384.2,202.7L383.5,204.1L382.2,202.6L378.7,205.4L376.2,206L373.6,204.8L372.8,202.2L372,196.7L373.6,195.2L378.2,193.2L381.5,190.8L384.4,187.6L388.1,183.3L390.7,181.6L394.8,178.8L398.3,177.9L401,178L403.2,176.2L406.2,176.3ZM399.7,162.3L396.6,163.1L393.9,162.6L394.8,162.1L393.7,161.5L396.7,161.2L397.5,161.9ZM389.3,158.8L394.4,160.2L390.9,160.9L390.5,162.3L389.2,162.7L388.9,164.3L387,164.4L383.6,163.2L384.8,162.5L382.5,162L379.4,160.4L378,158.9L381.9,158.2L382.8,158.9L384.8,158.9L385.2,158.2L387.3,158.2ZM399.2,157.6L402.2,158.2L400.4,159.2L396.3,159.4L392,159.1L391.6,158.6L389.5,158.5L387.8,157.7L392,157.2L394.2,157.6L395.5,157.1Z"/><path fill="#78c679" d="M410.9,180.5L411,182.1L414,183.5L412.8,185.2L415.5,187.8L414.8,189.8L416.8,191.5L416.4,193L419.4,194.6L419,195.8L417.7,197.2L414.4,200.2L411.2,200.4L408.1,201.2L405.2,201.7L403.9,200.4L402,199.7L402,197.3L400.8,195.2L401.4,193.8L402.8,192.4L406.4,189.9L407.4,189.4L407,188.4L404.4,187.3L403.7,186.5L402.9,183L400,181.5L397.6,180.4L398.4,179.8L400.5,181L402.7,180.9L404.6,181.4L406,180.5L406.5,178.8L408.9,178.1L411.2,179Z"/><path fill="#c2e699" d="M357.4,204.6L355.3,207.3L357.2,206.9L359.3,207L358.8,208.9L357,211.1L359,211.3L359.2,211.6L360.9,214.5L362.2,214.9L363.4,217.7L363.9,218.7L366.3,219.1L366.1,220.7L365.1,221.5L365.9,222.8L364.1,224.1L361.4,224.1L358,224.7L357.1,224.2L355.8,225.4L353.9,225.1L352.5,226.1L351.4,225.6L354.5,223L356.2,222.4L353.1,222L352.6,221L354.7,220.2L353.7,218.9L354.1,217.2L357,217.5L357.3,216L356,214.5L353.7,214L353.2,213.4L354,212.3L353.3,211.6L352.3,212.8L352.3,210.4L351.3,209.1L352.1,206.6L353.7,204.7L355.1,204.9ZM352.1,214.6L351,216.3L349.5,215.8L348.3,215.8L348.8,214.5L348.4,213.2L350.1,213.1Z"/><path fill="#78c679" d="M351,216.3L351.2,218.1L349.6,220.3L346.1,221.8L343.3,221.4L345,218.8L344.2,216.3L346.9,214.4L348.4,213.2L348.8,214.5L348.3,215.8L349.5,215.8Z"/><path fill="#78c679" d="M353.7,229.3L356.3,228.8L359.7,229.4L359.1,226.6L361,227.6L365.7,225.7L366.3,223.6L368,223.1L368.3,224L369.2,224L370.2,225L371.6,226.2L372.6,226L374.4,227.2L374.9,227.4L375.4,227.4L376.4,228L379.3,228.5L378.4,230.2L378.2,232L377.6,232.5L376.7,232.2L376.8,232.9L375.3,234.3L375.3,235.5L376.3,235.1L377,236.2L377,236.9L377.6,237.9L376.9,238.7L377.6,240.7L378.7,241L378.5,242.1L376.6,243.5L372.5,242.9L369.5,243.7L369.3,245.3L366.8,245.6L364.5,244.4L363.7,245L359.9,243.8L359,242.8L360.1,241.3L360.6,236.1L358.5,233.5L357,232.2L353.9,231.2ZM381.3,244.8L382.6,243.9L383.1,246.1L382.5,248.1L381.5,247.6L380.9,245.8Z"/><path fill="#ffffcc" d="M344,246.8L344.2,244.9L343.4,243.8L346.4,242L348.9,242.4L351.7,242.4L353.9,242.9L355.7,242.7L359,242.8L359.9,243.8L363.7,245L364.5,244.4L366.8,245.6L369.3,245.3L369.4,246.7L367.4,248.5L364.7,249L364.5,249.9L363.2,251.3L362.4,253.4L363.2,254.9L362,256.1L361.5,257.8L359.9,258.3L358.4,260.3L355.6,260.3L353.6,260.3L352.2,261.2L351.4,262.2L350.3,262L349.5,261.1L348.9,259.6L347,259.2L346.8,258.3L347.6,257.4L347.9,256.6L347.2,255.9L347.8,254.2L347,252.6L348,252.4L348.1,251.2L348.4,250.8L348.5,248.8L349.5,248.1L349,246.8L347.7,246.7L347.4,247L346.1,247L345.7,245.7L344.8,246.1Z"/><path fill="#78c679" d="M344,246.8L344.8,246.1L345.7,245.7L346.1,247L347.4,247L347.7,246.7L349,246.8L349.5,248.1L348.5,248.8L348.4,250.8L348.1,251.2L348,252.4L347,252.6L347.8,254.2L347.2,255.9L347.9,256.6L347.6,257.4L346.8,258.3L347,259.2L346,259.9L344.9,259.5L343.8,259.8L344.2,257.7L344.1,256.1L343.1,255.9L342.6,254.9L342.9,253.2L343.7,252.3L343.9,251.2L344.4,249.7L344.4,248.6L344.1,247.7Z"/><path fill="#c2e699" d="M382.1,213.6L382.2,214.5L384.2,215.1L384.2,216L386.2,215.5L387.2,214.8L389.5,215.8L390.5,216.6L391,217.9L390.5,218.5L391.3,219.4L391.9,220.8L391.9,221.6L392.8,223.2L391.9,223.5L391.4,223.2L390.9,223.7L389.6,224.2L388.9,224.8L387.4,225.3L387.9,226.1L388.1,227.1L389.2,227.7L390.4,228.8L389.8,230L389.1,230.3L389.5,232L389.3,232.4L388.6,231.9L387.7,231.8L386.3,232.3L384.4,232.2L384.2,232.9L383.1,232.1L382.5,232.3L380.3,231.5L379.9,232.1L378.2,232L378.4,230.2L379.3,228.5L376.4,228L375.4,227.4L375.5,226.3L375.1,225.7L375.3,224L374.8,221.4L376,221.4L376.5,220.4L376.9,218.1L376.5,217.3L376.8,216.8L378.4,216.6L378.8,217.2L380.1,215.9L379.6,215L379.4,213.6L380.9,213.9Z"/><path fill="#78c679" d="M408.6,216.2L408.9,217.3L409.5,218.3L409.7,219.3L408.6,219.8L409.4,220.9L409.5,222L410.8,224.2L410.7,224.9L409.8,225.2L408.2,227.3L408.9,228.5L408.4,228.3L406.4,227.3L405,227.7L404,227.4L402.9,228L401.8,227.1L401,227.4L400.8,227.3L399.8,226L398.3,225.9L398,225.1L396.6,224.8L396.4,225.4L395.3,224.9L395.3,224.2L393.8,224L392.8,223.2L391.9,221.6L391.9,220.8L391.3,219.4L390.5,218.5L391,217.9L390.5,216.6L391.7,215.9L394.6,214.7L397,213.9L398.9,214.3L399.2,214.9L401,214.9L403.4,215.2L407,215.2L408,215.4Z"/><path fill="#ffffcc" d="M392.8,223.2L393.8,224L395.3,224.2L395.3,224.9L396.4,225.4L396.6,224.8L398,225.1L398.3,225.9L399.8,226L400.8,227.3L400.2,227.3L400,227.7L399.5,227.8L399.5,228.4L399.1,228.5L399.1,228.8L398.4,229L397.5,229L397.3,229.5L396.3,229.1L395.4,229.2L393.7,228.4L393,228.6L392,229.7L390.4,228.8L389.2,227.7L388.1,227.1L387.9,226.1L387.4,225.3L388.9,224.8L389.6,224.2L390.9,223.7L391.4,223.2L391.9,223.5Z"/><path fill="#78c679" d="M397.4,230.8L397.3,231.8L396.2,231.8L396.6,232.3L396.1,234L395.7,234.4L394,234.5L393,235.1L391.3,234.9L388.3,234.2L387.8,233.3L385.8,233.8L385.6,234.3L384.3,233.9L383.3,233.8L382.3,233.4L382.6,232.7L382.5,232.3L383.1,232.1L384.2,232.9L384.4,232.2L386.3,232.3L387.7,231.8L388.6,231.9L389.3,232.4L389.5,232L389.1,230.3L389.8,230L390.4,228.8L392,229.7L393,228.6L393.7,228.4L395.4,229.2L396.3,229.1L397.3,229.5L397.1,229.9Z"/><path fill="#78c679" d="M382.5,232.3L382.6,232.7L382.3,233.4L383.3,233.8L384.3,233.9L384.2,234.9L383.3,235.4L381.8,235.1L381.4,236.1L380.4,236.1L380.1,235.8L379,236.6L378,236.7L377,236.2L376.3,235.1L375.3,235.5L375.3,234.3L376.8,232.9L376.7,232.2L377.6,232.5L378.2,232L379.9,232.1L380.3,231.5Z"/><path fill="#78c679" d="M374.8,217.2L376.5,217.3L376.9,218.1L376.5,220.4L376,221.4L374.8,221.4L375.3,224L374.1,223.4L372.8,222.3L371,222.8L369.6,222.6L370.6,221.9L372.2,218.3Z"/><path fill="#78c679" d="M369.6,222.6L371,222.8L372.8,222.3L374.1,223.4L375.3,224L375.1,225.7L374.6,225.8L374.4,227.2L372.6,226L371.6,226.2L370.2,225L369.2,224L368.3,224L368,223.1Z"/><path fill="#78c679" d="M384.3,233.9L385.6,234.3L385.8,233.8L387.8,233.3L388.3,234.2L391.3,234.9L391.1,236.1L391.7,237.2L390,236.8L388.4,237.8L388.6,239L388.4,239.8L389.2,241.1L391.2,242.4L392.4,244.5L394.8,246.6L396.5,246.6L397,247.1L396.5,247.7L398.5,248.6L400.1,249.4L402,250.7L402.2,251.2L401.9,252.1L400.6,250.9L398.8,250.5L398,252.2L399.6,253.1L399.4,254.5L398.6,254.7L397.5,256.9L396.7,257.1L396.6,256.3L397,254.9L397.4,254.3L396.5,252.8L395.7,251.5L394.8,251.2L394.1,250.1L392.8,249.6L391.8,248.6L390.2,248.4L388.5,247.2L386.5,245.5L385,244.1L384.2,241.5L383.2,241.2L381.4,240.4L380.5,240.7L379.3,241.9L378.5,242.1L378.7,241L377.6,240.7L376.9,238.7L377.6,237.9L377,236.9L377,236.2L378,236.7L379,236.6L380.1,235.8L380.4,236.1L381.4,236.1L381.8,235.1L383.3,235.4L384.2,234.9ZM396.3,256.2L395.6,258.3L396,259.1L395.6,260.4L393.9,259.4L392.8,259.2L389.7,257.9L390,256.5L392.5,256.8L394.6,256.5ZM382.4,248.5L383.8,250.3L383.6,253.8L382.6,253.6L381.8,254.5L381,253.8L380.8,250.7L380.3,249.2L381.4,249.3Z"/><path fill="#78c679" d="M391.3,234.9L393,235.1L394,234.5L395.7,234.4L396.1,234L396.4,234L396.9,234.9L395.3,235.6L395.2,236.6L394.5,236.9L394.6,237.6L393.8,237.5L393.1,237.1L392.7,237.5L391.3,237.5L391.7,237.2L391.1,236.1Z"/><path fill="#78c679" d="M401.7,236.4L402.3,237.4L403,238.1L402.3,239.1L401.3,238.5L399.9,238.6L398.1,238.1L397.1,238.2L396.7,238.7L395.9,238.1L395.6,239.2L396.7,240.4L397.2,241.2L398.2,242.2L399.1,242.7L399.9,243.8L401.9,244.8L401.7,245.2L399.6,244.3L398.4,243.3L396.4,242.6L394.5,240.7L394.9,240.5L393.9,239.4L393.8,238.5L392.4,238.1L391.9,239.2L391.2,238.4L391.2,237.5L391.3,237.5L392.7,237.5L393.1,237.1L393.8,237.5L394.6,237.6L394.5,236.9L395.2,236.6L395.3,235.6L396.9,234.9L397.6,235.2L399.2,236.3L401,236.8Z"/><path fill="#c2e699" d="M406,237.7L407.3,238.3L407.6,239.3L408.9,240.1L409.5,239.5L410,239.8L409.6,240.3L410,240.7L409.6,241.3L409.9,242.2L411,243.3L410.3,244.1L410,245L410.3,245.3L410,245.6L409,245.7L408.3,245.8L408.2,245.6L408.4,245.3L408.6,244.7L408.3,244.7L407.9,244.2L407.5,244.1L407.2,243.7L406.8,243.5L406.4,243.2L406.1,243.3L405.9,244.2L405.4,244.4L405.6,244.1L404.7,243.6L404,243.3L403.6,243L403.1,242.5L403.5,242.4L403.7,241.2L402.6,240.2L403.1,239.1L402.3,239.1L403,238.1L402.3,237.4L401.7,236.4L403.2,235.7L404.5,235.8L405.7,236.9Z"/><path fill="#c2e699" d="M411.4,248.2L413,248.2L414.6,247.6L416.2,248.5L418.1,248.2L418,246.9L419.1,247.6L418.6,249.2L418.1,249.5L416.8,249.4L415.7,249.2L413.2,249.9L414.8,251.3L413.8,251.7L412.6,251.7L411.3,250.4L411,251L411.6,252.5L412.8,253.7L412.1,254.3L413.4,255.5L414.5,256.3L414.7,257.7L412.6,257L413.4,258.4L412,258.6L413,260.9L411.6,261L409.7,259.9L408.8,257.8L408.2,256L407.3,254.8L406.1,253.4L405.9,252.6L406.8,251.4L406.8,250.5L407.5,250.1L407.5,249.5L408.8,249.2L409.6,248.7L410.7,248.7L411,248.3ZM420.1,263.9L419.9,264.6L416.7,264.9L416.8,264.4L414,263.9L414.4,262.8L415.6,263.7L417.3,263.6L418.9,263.7L418.9,264.2Z"/><path fill="#78c679" d="M410,240.7L410.7,241.8L411.5,241.6L413.2,242L416.3,242.1L417.2,241.5L419.6,240.8L421.2,241.8L422.5,242.1L421.5,243.1L421,245L421.9,246.4L420,246.1L418,246.9L418.1,248.2L416.2,248.5L414.6,247.6L413,248.2L411.4,248.2L411.1,246.5L410,245.6L410.3,245.3L410,245L410.3,244.1L411,243.3L409.9,242.2L409.6,241.3Z"/><path fill="#78c679" d="M407,215.2L406.8,214.6L406.9,213.9L406,213.5L403.9,213.1L403.2,211L405.3,210.2L408.5,210.4L410.3,210.2L410.7,210.7L411.7,210.8L413.7,212L414.1,213.1L412.7,213.9L412.5,215.3L410.5,216.2L408.6,216.2L408,215.4Z"/><path fill="#78c679" d="M403.2,211L403,209.2L403.7,207.6L405.3,206.8L407.1,208.6L408.6,208.5L408.7,206.7L410.2,206.3L411.1,206.6L412.9,207.5L414.4,207.5L415.4,208L415.8,209.2L416.7,210.6L414.8,211.6L413.7,212L411.7,210.8L410.7,210.7L410.3,210.2L408.5,210.4L405.3,210.2Z"/><path fill="#c2e699" d="M408.7,206.7L408.7,205.3L408,205.6L406.7,204.7L406.3,203.3L408.5,202.6L410.8,202.3L412.9,202.7L414.8,202.6L415.1,203.1L414.1,204.5L415.1,206.7L414.4,207.5L412.9,207.5L411.1,206.6L410.2,206.3Z"/><path fill="#c2e699" d="M434.1,264.3L434.2,264.3L434.5,263.6L436.1,263.7L438,262.9L436.6,264L436.9,264.7L434.8,265.8L433.7,265.4L433.1,264.4Z"/><path fill="#78c679" d="M393.7,261.9L394.6,262.3L394.4,262.7L393.7,262.3Z"/><path fill="#ffffcc" d="M351.8,262.7L353,263.8L355.1,263.6L357.4,264.2L358.3,264.2L359.1,265.9L359.2,267.5L360,270.2L360.5,270.8L360.1,271.8L357.2,272.2L356.2,273.2L355,273.4L354.9,275.3L352.3,276.4L351.4,277.7L349.6,278.4L347.4,278.8L343.7,280.7L343.7,283.8L333.7,283.9L334.9,282.8L337,282.5L338.8,280.8L339.9,280L341.8,277.9L341.4,274.6L342.3,272.4L342.6,271L344,269.2L346.3,268L347.9,267L349.4,264.3L350.2,262.7Z"/><path fill="#ffffcc" d="M384,276.9L382.9,272.2L381.5,271.1L381.5,270.5L379.6,269L379.4,267L380.7,265.5L381.2,263.4L380.8,260.9L381.1,259.6L383.5,258.5L385,258.8L385,260.2L386.8,259.2L386.9,259.7L385.9,261L385.9,262.2L386.7,262.8L386.5,265.1L385.1,266.4L385.6,267.8L386.7,267.9L387.3,269.1L388.2,269.5L388.1,271.5L387,272.3L386.4,273.1L384.9,274.1L385.2,275.2L385,276.3Z"/><path fill="#ffffcc" d="M457.5,358.2L458.9,360.4L457.2,361.4L456.7,362.5L455.8,362.7L455.4,364.6L454.7,365.6L454.2,367.4L453.3,368.2L450,365.6L449.9,364.1L441.5,358.8L441.2,358.5L441.1,355.7L441.8,354.6L442.9,352.9L443.8,351L442.7,348L442.4,346.7L441.3,344.9L442.7,343.3L444.3,341.6L445.5,342.1L445.5,343.5L446.3,344.4L447.9,344.4L450.8,346.6L451.6,346.6L452.1,346.6L452.6,346.9L454.1,347.1L454.8,346L456.9,344.9L457.8,345.8L459.4,345.8L457.4,348.7Z"/><path fill="#ffffcc" d="M441.2,358.5L436.5,358.7L433.9,358.6L433.1,358.9L431.7,359.8L431.2,359.5L431.2,357.5L431.8,356.5L431.9,354.4L432.4,353.2L433.2,351.9L434.1,351.2L434.8,350.3L433.9,349.9L434,346.8L435,346.1L436.4,346.7L438.3,346.1L439.9,346.1L441.3,344.9L442.4,346.7L442.7,348L443.8,351L442.9,352.9L441.8,354.6L441.1,355.7Z"/><path fill="#78c679" d="M539.4,227.8L540.8,229.5L543.1,230.9L546.4,231.9L548.8,233.9L549.4,236.9L550.6,238L553.2,238.4L556.2,238.8L559.4,240.4L560.8,240.7L562.9,243.1L564.8,244.6L567,244.5L571.6,245.1L574.3,244.8L576.5,245.1L580.3,246.7L582.9,246.7L584.2,247.5L586,246.1L588.9,245.2L592,245.1L594,244.2L594.8,242.8L595.8,242L595,241.1L593.8,240.1L594,238.5L595.3,238.7L597.7,239.2L599,237.9L601.6,236.9L602.1,235.2L603.1,234.5L605.9,234.1L607.7,234.4L607.4,233.5L604.4,231.7L602.3,230.9L601.3,231.8L599.1,231.5L598.1,231.8L597,230.7L596.9,228.2L596.7,226.3L599.7,227.2L601.5,225.6L600.7,224.5L600.6,221.9L601.2,221.1L600.1,219.7L598.6,219.1L599.3,217.9L601.4,217.4L603.9,217.3L607.4,218.1L609.9,219L613,221.5L614.5,222.6L616.4,224.1L618.9,226.6L622.9,227.4L626.5,229.2L629,231.6L632.1,231.6L633.1,230.6L636,229.9L636.5,232.1L636.3,233.1L637.5,235.9L637.8,238.4L635,237.9L633.8,238.8L635.7,241L637.3,244.1L636.3,244.1L637.1,245.4L634.8,243.9L634.9,245.4L632.2,246.5L633.3,247.8L631.5,247.8L630,246.9L629.6,248.8L628,250.2L627.1,251.8L624.5,252.6L623.6,253.8L621.6,254.5L622.2,253.3L621.2,252.3L622,250.6L620.2,249.2L618.8,250.1L617.3,251.9L616.8,253.6L614.8,253.7L614.3,254.9L616.2,256.7L618.2,257.1L618.7,258.3L620.8,259L622.4,257.2L624.7,258.2L626.2,258.3L627.1,259.6L624.4,260.3L624,261.8L622.4,263.1L622.1,264.9L625,266.3L626.9,268.9L629.1,271.3L631.3,273.3L632,275.2L630.8,275.9L631.8,277.3L633.4,278.1L633.7,280.3L633.7,282.3L632.6,282.6L631.7,285.4L630.8,288.8L629.4,291.9L626.8,294.3L624.1,296.5L621.6,296.8L620.5,298L619.5,297.1L618.5,298.4L615.6,299.8L613.3,300.1L612.9,302.9L611.7,303.1L610.8,301.2L611.2,300.1L608,299.3L607,299.8L604.6,299.1L603.4,298L603.5,296.5L601.3,296L600.1,295.1L598.4,296.4L596.2,296.8L594.5,296.7L593.3,297.4L592.2,297.7L593.1,300.7L591.8,300.7L591.5,300L591.3,299L589.8,299.7L588.7,299.3L586.9,298.3L587.2,296.1L585.7,295.6L584.7,293.2L582.4,293.6L582.2,290.5L583.9,288.3L583.5,286.2L583,284.2L581.9,283.6L580.8,282L579.5,282.2L577,281.8L577.5,280.8L576.1,279.1L574.8,280.2L572.8,279.6L570.6,281.2L569,283.2L567.3,283.5L566.2,282.8L565,282.8L563.3,282.1L562.2,282.8L561.1,284.7L560.5,282.7L559.3,283.2L556.6,283L554,282.4L551.9,281.2L550.1,280.7L549.1,279.5L547.8,279.1L545.2,277.4L543.2,276.6L542.4,277.2L538.9,275.4L536.4,273.7L535.1,270.9L536.8,271.2L536.5,269.9L535.3,268.5L535,266.4L531.8,263.4L528,262.3L526.8,260.3L524.9,259.1L524.3,258.3L523.5,256.9L523.3,255.8L521.9,255.3L521.2,255.5L520,253.1L520.4,252.5L519.9,251.9L521.6,250.7L522.9,250.2L525.3,250.5L525.5,248.9L528.1,248.6L528.5,247.6L531.3,246.2L531.4,245.6L530.7,244.1L531.9,243.4L528.3,238.9L532,237.9L532.8,237.4L532.4,232.8L536.8,233.6L537.5,232.5L536.4,229.9L538,229.7L538.7,228ZM613.5,307.2L611.7,308.5L609.7,307.7L609.3,305.4L610.2,304.3L612.5,303.5L613.9,303.6L614.5,304.6L613.7,305.7Z"/><path fill="#78c679" d="M637.6,255.3L640.9,258.3L642.3,260L643.7,263L643.5,264.4L641.7,264.9L640.5,266L638.6,266.2L637.7,264.8L637.3,262.9L635.1,260.1L636.5,259.7L634,257.5L634,257.3L635,257.4L635.3,256.2L636.7,256.1L637.6,255.9Z"/><path fill="#c2e699" d="M666.6,259.1L666.9,261.2L667.9,262.5L667.7,264.3L665.5,265.5L661.7,265.7L659.9,268.7L658,267.6L657.1,265.7L653.5,266.3L651.5,267.5L649,267.5L652,269.5L652.3,273.9L651.3,275L649.8,274L649.5,271.6L647.8,270.9L646.2,269.1L647.9,268.3L648.4,266.7L649.9,265.3L650.7,263.5L654.7,262.7L657.3,263.3L657.2,258.7L659.3,259.9L661.1,257.3L661.8,256.3L661.4,253.1L659.4,250.2L659.3,248.5L661.2,248.1L664.5,251.7L665.7,253.8L665.2,256.4ZM654.8,266.3L656.6,266.9L657.3,267.8L656.8,269.3L655.5,268.5L654.6,269.1L654.7,270.7L653,269.9L652.5,268.7L653,267.1L654.4,267.4ZM661.9,240.9L663.7,241.4L664.4,240.3L666.9,243.2L664.2,243.9L664,246.5L659.6,244.7L660.3,247.6L658,247.6L656.1,245L655.8,243L657.9,242.9L656.1,239.3L655.4,237.3L659.6,240Z"/><path fill="#c2e699" d="M595.6,339.8L595.8,341.1L597.3,340.8L598,339.8L598.6,340L600,341.6L601,343.3L601.3,345.1L601,346.3L601.3,347.2L601.5,348.7L602.3,349.4L603.3,351.7L603.3,352.6L601.7,352.8L599.4,350.9L596.7,348.8L596.3,347.5L595,345.7L594.6,343.5L593.7,342.1L593.8,340.2L593.3,339.1L593.6,338.7ZM636.2,344.3L634.5,345.2L632.5,344.8L629.9,344.8L629.2,347.7L628.3,348.6L627.2,352.3L625.4,352.8L623.2,352.1L622.1,352.3L620.8,353.7L619.3,353.4L617.8,354L616.2,352.5L615.8,350.8L617.5,351.7L619.3,351.2L619.7,349L620.6,348.5L623.4,347.9L624.9,345.8L626,344.2L627.1,345.5L627.6,344.6L628.7,344.7L628.7,343L628.7,341.8L630.4,340L631.5,337.9L632.4,337.9L633.7,339.2L633.8,340.4L635.4,341.1L637.3,341.9L637.2,342.9L635.7,343Z"/><path fill="#c2e699" d="M638.5,307.7L640,308.4L640.6,307.8L640.9,308.4L640.7,309.5L641.8,311.4L641.5,313.6L640.3,314.4L640.3,316.5L641.1,318.6L642.3,318.9L643.3,318.6L646.4,320L646.3,321.4L647.1,322.1L647.1,323.3L645.1,322L644.1,320.6L643.6,321.6L642,320L640,320.4L638.7,319.8L638.7,318.8L639.3,318.1L638.6,317.5L638.4,318.4L637.1,316.9L636.6,315.8L636.1,313.3L637.2,314.2L636.8,310.1L637.1,307.7ZM653.4,334L653.8,335.8L654,337.2L653.4,339.6L652.3,337L651.4,338.3L652.2,340.2L651.6,341.4L648.8,339.9L648.1,338L648.7,336.8L647.1,335.6L646.5,336.6L645.4,336.5L643.8,338L643.4,337.2L644.1,335L645.5,334.3L646.7,333.3L647.6,334.5L649.3,333.8L649.6,332.6L651.2,332.5L650.9,330.5L652.8,331.8L653.2,333.1ZM636.9,326.3L637.6,328.5L636.2,329.9L635.1,331.7L632.2,334.2L633.2,332.3L634.8,330.7L636,328.9ZM650.4,324.3L651.4,327.2L649.5,326.5L649.7,327.3L650.4,329L649.4,329.6L649.1,327.7L648.4,327.6L647.9,326L649.2,326.2L649.1,325.2L647.5,323.2L649.7,323.3ZM642.2,325L643.7,325.8L645.1,325.8L645.2,326.8L644.3,328L642.9,328.8L642.7,327.5L642.7,326.2ZM647.5,329.2L646.7,330L646.1,331.7L645.5,332.5L643.9,330.7L644.3,330L644.9,329.2L644.9,327.6L646.2,327.4L646,329.2L647.4,326.7ZM641.1,321.9L640.7,324.1L639.6,322.9L638.2,320.8L640.1,320.9Z"/><path fill="#c2e699" d="M441.3,270.6L441.1,271.5L440.2,271.1L439.9,272.8L440.5,273.1L440,273.5L440,274.2L441,273.8L441.1,274.8L440.4,279L438.5,274.5L439.1,273.7L438.9,273.5L439.4,272.3L439.6,270.3L439.9,269.7L439.9,269.6L440.7,269.6L440.8,269.2L441.4,269.1L441.5,270.2Z"/><path fill="#c2e699" d="M738.7,460.5L736.9,461.9L734.5,463.7L732.1,464.7L732.2,464.1L731.6,463.7L734.5,461.6L734.8,460.1L733.2,459.1L733.9,458.2L736.1,457.2L737.8,455.2L738.9,453.5L739.1,451.8L739.4,451.3L739.1,450.3L738.7,448L738.9,446.1L739.9,445.9L740.2,447.4L741.5,448.1L740.7,450.4L740.5,453.1L741.7,451.3L742.2,452L741.3,454L742.4,454.9L743.7,455.1L745.6,454.1L746.5,454.4L744.4,456.7L742.7,458.2L741.1,458.2L740,458.9L739.4,460ZM716.6,469.6L719.5,468.2L721.8,466.9L724.2,464.9L725.5,464.3L726.9,462.8L729.3,461.6L728.9,462.7L728.6,463.8L730.9,462.8L730.7,463.9L729.8,464.9L728.1,466.1L725.2,468L723.3,469.1L723.1,470.3L721.5,470.4L718.9,471.3L716.9,473L713.6,475.6L711,476.7L709.4,477.5L707.5,477.4L706.9,476.6L704.9,476.4L705.3,475.4L707.9,473.5L712.6,471L714.3,470.5Z"/></g></svg>
<div class="t title" id="t1" style="left:16.8px;top:16.15px;">Level of implementation of sustainable procurement policies and plans,</div>
<div class="t title" id="t2" style="left:16.4px;top:45.3px;font-size:17.4px;line-height:22px;transform:scaleX(1.3);">2022</div>
<div class="t sub" id="s1" style="left:15.5px;top:73.7px;transform:scaleX(1.003);">Evaluation of a country's sustainable public procurement implementation level, scope, and comprehensiveness is scored</div>
<div class="t sub" id="s2" style="left:15.5px;top:91.8px;transform:scaleX(1.0082);">based on six parameters. These parameters consider the existence of regulatory frameworks, implementation support,</div>
<div class="t sub" id="s3" style="left:15.5px;top:109.6px;transform:scaleX(1.0056);">monitoring, and the share of products and services purchased sustainably.</div>
<div id="logo"><span style="top:4.6px;">Our World</span><span style="top:16.6px;">in Data</span><div class="bar"></div></div>
<div class="sw" style="left:138px;background:#31a354;"></div>
<div class="t leg" id="l1" style="left:156.5px;top:533.2px;transform:scaleX(1.009);">High level of implementation</div>
<div class="sw" style="left:351.8px;background:#ffffcc;"></div>
<div class="t leg" id="l2" style="left:370.4px;top:533.2px;transform:scaleX(0.9845);">Low</div>
<div class="sw" style="left:409px;background:#78c679;"></div>
<div class="t leg" id="l3" style="left:427.6px;top:533.2px;transform:scaleX(1.0145);">Medium-high</div>
<div class="sw" style="left:524.7px;background:#c2e699;"></div>
<div class="t leg" id="l4" style="left:543.2px;top:533.2px;transform:scaleX(1.0351);">Medium-low</div>
<svg class="sw" id="swnd" style="left:636.1px;background:#fff;" width="14" height="14"><rect width="14" height="14" fill="url(#hatch)"/></svg>
<div class="t leg" id="l5" style="left:654.3px;top:533.2px;transform:scaleX(0.9879);">No data</div>
<div class="t foot" id="f1a" style="left:15.5px;top:569.8px;transform:scaleX(0.9438);"><b>Data source:</b></div>
<div class="t foot" id="f1b" style="left:92.2px;top:569.8px;transform:scaleX(1.0243);">United Nations Environment Programme</div>
<div class="t foot" id="f2" style="left:420.2px;top:569.8px;transform:scaleX(1.0343);">OurWorldinData.org/sdgs/responsible-consumption-production | CC BY</div>
</body>
</html>
